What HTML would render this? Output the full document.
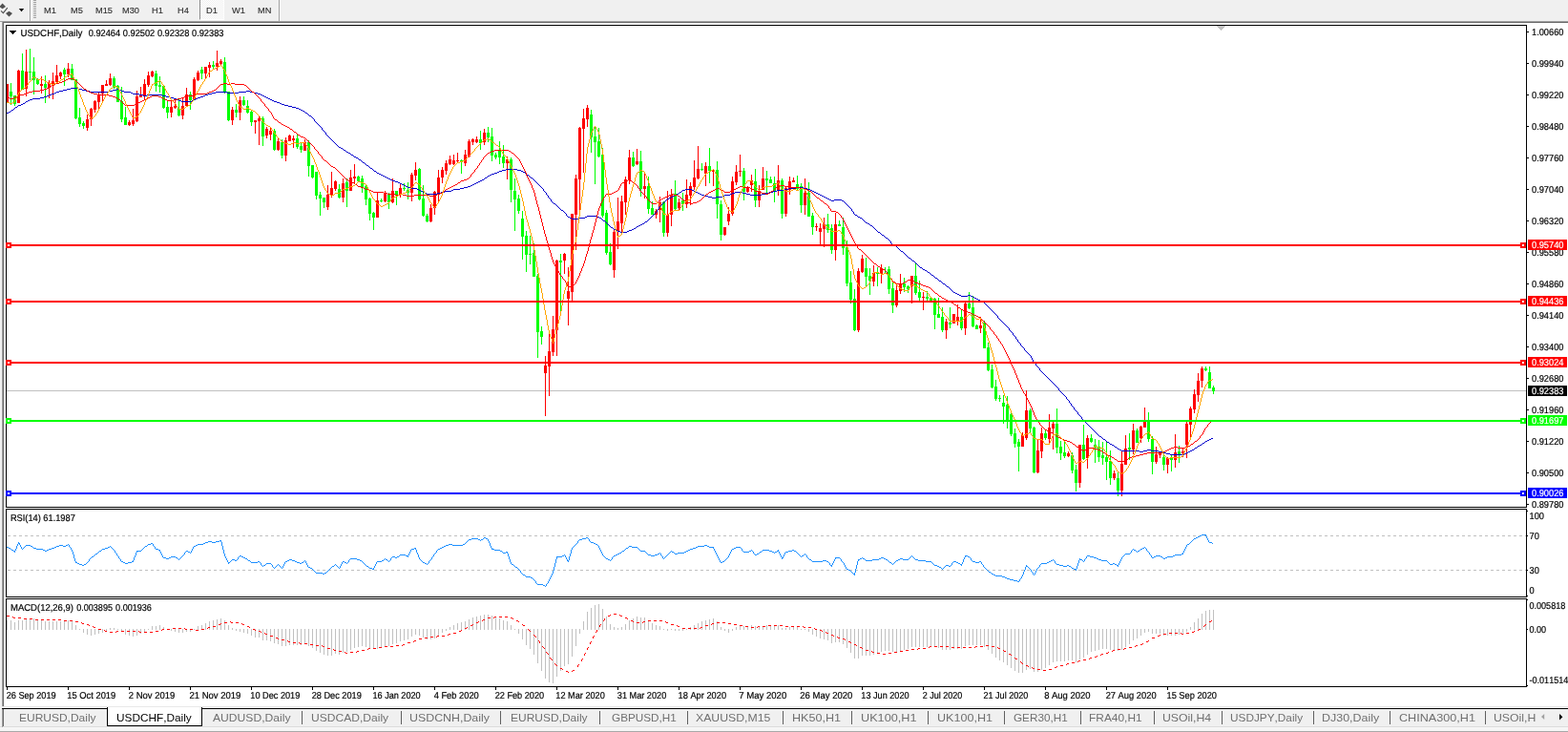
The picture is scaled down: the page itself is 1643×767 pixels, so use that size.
<!DOCTYPE html>
<html lang="en"><head><meta charset="utf-8"><title>USDCHF,Daily</title>
<style>
html,body{margin:0;padding:0;background:#fff;overflow:hidden}
body{width:1643px;height:767px;position:relative;font-family:'Liberation Sans',sans-serif;font-kerning:none}
#chart text{font-kerning:none}
#chart{position:absolute;left:0;top:0;display:block}
#toolbar{position:absolute;left:0;top:0;width:1643px;height:22px}
#toolbar span{position:absolute;top:4.9px;height:12px;line-height:12px;font-size:9.6px;color:#333;-webkit-text-stroke:.15px #333;white-space:nowrap;transform-origin:0 0;transform:scaleX(.965)}
#toolbar .sep{position:absolute;top:0;width:1px;height:22px;background:#a0a0a0;box-shadow:1px 0 0 #fff}
#toolbar .grip{position:absolute;left:35px;top:0;width:3px;height:19px;background:repeating-linear-gradient(#a0a0a0 0 1px,transparent 1px 2px)}
#toolbar .on{position:absolute;left:209px;top:0;width:26px;height:21px;box-sizing:border-box;border-left:1px solid #8c8c8c;border-right:1px solid #fff;border-bottom:1px solid #fff;background:repeating-conic-gradient(#fff 0 25%,#f0f0f0 0 50%) 0 0/2px 2px}
#tabs{position:absolute;left:0;top:741px;width:1643px;height:26px;overflow:hidden}
#tabs .bg{position:absolute;left:4px;top:2px;right:0;height:19px;background:#f0f0f0}
#tabs .line{position:absolute;left:2px;top:1px;right:0;height:1px;background:#000}
#tabs .l1{position:absolute;left:2px;top:2px;width:1px;height:19px;background:#a0a0a0}
#tabs .l2{position:absolute;left:3px;top:2px;width:1px;height:18px;background:#696969}
#tabs span{position:absolute;top:3.2px;height:16px;line-height:16px;font-size:11.8px;color:#707070;white-space:nowrap;transform-origin:0 0}
#tabs span.act{color:#000}
#tabs .actbg{position:absolute;left:112px;top:0;width:100px;height:20px;box-sizing:border-box;background:#fff;border:1px solid #000;border-top:0}
#tabs i{position:absolute;top:4px;width:1px;height:14px;background:#606060}
#tabs .b0{position:absolute;left:0;top:20px;width:100%;height:1px;background:#dcdcdc}
#tabs .b1{position:absolute;left:0;top:21px;width:100%;height:4px;background:#f6f6f6}
#tabs .b2{position:absolute;left:0;top:25px;width:100%;height:1px;background:#a8a8a8}
</style></head><body>
<svg id="chart" width="1643" height="767" viewBox="0 0 1643 767" font-family="'Liberation Sans', sans-serif" shape-rendering="crispEdges">
<rect x="0" y="0" width="1643" height="767" fill="#ffffff"/>
<rect x="0" y="0" width="1643" height="22" fill="#f0f0f0"/>
<rect x="0" y="22" width="2" height="745" fill="#f0f0f0"/>
<rect x="0" y="22" width="1643" height="1" fill="#a0a0a0"/>
<rect x="3" y="23" width="1640" height="1" fill="#696969"/>
<rect x="2" y="23" width="1" height="717" fill="#a0a0a0"/>
<rect x="3" y="24" width="1" height="716" fill="#696969"/>
<rect x="2" y="740" width="1641" height="2" fill="#ffffff"/>
<rect x="2" y="740" width="1641" height="1" fill="#e8e8e8"/>
<rect x="7" y="409" width="1592" height="1" fill="#c0c0c0"/>
<g id="candles" clip-path="url(#cm)">
<path fill="#00ff00" d="M11 87h1v23h-1zM10 96h3v5h-3zM15 100h1v11h-1zM14 100h3v9h-3zM23 56h1v38h-1zM22 74h3v20h-3zM31 51h1v33h-1zM30 75h3v1h-3zM35 60h1v39h-1zM34 75h3v9h-3zM39 82h1v7h-1zM38 83h3v5h-3zM47 79h1v29h-1zM46 88h3v4h-3zM67 71h1v19h-1zM66 73h3v5h-3zM75 67h1v17h-1zM74 72h3v12h-3zM79 83h1v42h-1zM78 83h3v41h-3zM83 113h1v20h-1zM82 123h3v7h-3zM87 127h1v8h-1zM86 129h3v3h-3zM119 80h1v13h-1zM118 82h3v10h-3zM123 89h1v18h-1zM122 90h3v17h-3zM127 91h1v37h-1zM126 106h3v19h-3zM131 112h1v19h-1zM130 123h3v8h-3zM163 74h1v22h-1zM162 77h3v13h-3zM167 80h1v17h-1zM166 89h3v2h-3zM171 90h1v24h-1zM170 90h3v23h-3zM175 106h1v18h-1zM174 112h3v6h-3zM187 104h1v18h-1zM186 114h3v7h-3zM199 96h1v19h-1zM198 99h3v6h-3zM211 70h1v13h-1zM210 73h3v4h-3zM223 64h1v9h-1zM222 68h3v2h-3zM235 60h1v38h-1zM234 65h3v31h-3zM239 96h1v31h-1zM238 96h3v30h-3zM247 109h1v14h-1zM246 115h3v3h-3zM255 101h1v10h-1zM254 105h3v5h-3zM259 105h1v14h-1zM258 111h3v7h-3zM263 116h1v16h-1zM262 117h3v11h-3zM275 122h1v31h-1zM274 124h3v19h-3zM287 135h1v23h-1zM286 137h3v20h-3zM295 146h1v20h-1zM294 149h3v14h-3zM311 141h1v15h-1zM310 145h3v9h-3zM315 150h1v10h-1zM314 153h3v4h-3zM323 147h1v38h-1zM322 149h3v25h-3zM327 173h1v14h-1zM326 173h3v13h-3zM331 180h1v29h-1zM330 180h3v25h-3zM335 201h1v25h-1zM334 204h3v4h-3zM339 207h1v11h-1zM338 207h3v5h-3zM355 193h1v15h-1zM354 198h3v9h-3zM363 187h1v30h-1zM362 191h3v9h-3zM375 184h1v6h-1zM374 185h3v5h-3zM379 184h1v18h-1zM378 187h3v9h-3zM383 194h1v21h-1zM382 195h3v14h-3zM387 207h1v24h-1zM386 208h3v16h-3zM391 222h1v19h-1zM390 223h3v5h-3zM399 208h1v4h-1zM398 210h3v1h-3zM407 202h1v17h-1zM406 204h3v8h-3zM415 200h1v15h-1zM414 200h3v5h-3zM423 192h1v8h-1zM422 197h3v1h-3zM427 191h1v18h-1zM426 199h3v3h-3zM439 176h1v34h-1zM438 177h3v32h-3zM443 194h1v33h-1zM442 208h3v18h-3zM447 224h1v9h-1zM446 226h3v6h-3zM483 167h1v15h-1zM482 168h3v2h-3zM503 137h1v20h-1zM502 146h3v4h-3zM511 133h1v16h-1zM510 139h3v5h-3zM515 134h1v35h-1zM514 143h3v20h-3zM519 160h1v7h-1zM518 162h3v3h-3zM523 148h1v24h-1zM522 158h3v7h-3zM527 152h1v24h-1zM526 164h3v7h-3zM535 165h1v47h-1zM534 167h3v32h-3zM539 187h1v55h-1zM538 200h3v9h-3zM543 204h1v20h-1zM542 208h3v13h-3zM547 221h1v51h-1zM546 229h3v19h-3zM551 242h1v43h-1zM550 247h3v20h-3zM555 247h1v30h-1zM554 266h3v1h-3zM559 255h1v35h-1zM558 265h3v25h-3zM563 287h1v88h-1zM562 289h3v59h-3zM567 342h1v19h-1zM566 347h3v6h-3zM587 266h1v60h-1zM586 273h3v2h-3zM619 115h1v45h-1zM618 120h3v24h-3zM623 133h1v60h-1zM622 143h3v6h-3zM627 134h1v31h-1zM626 148h3v16h-3zM631 155h1v73h-1zM630 162h3v64h-3zM635 220h1v47h-1zM634 223h3v42h-3zM639 255h1v23h-1zM638 264h3v13h-3zM663 159h1v16h-1zM662 165h3v9h-3zM671 158h1v48h-1zM670 169h3v29h-3zM679 185h1v39h-1zM678 195h3v24h-3zM683 211h1v14h-1zM682 218h3v7h-3zM695 211h1v37h-1zM694 212h3v32h-3zM707 189h1v31h-1zM706 203h3v16h-3zM715 202h1v19h-1zM714 210h3v4h-3zM735 171h1v8h-1zM734 177h3v1h-3zM743 155h1v37h-1zM742 174h3v5h-3zM751 169h1v60h-1zM750 178h3v36h-3zM755 210h1v42h-1zM754 214h3v32h-3zM779 176h1v34h-1zM778 179h3v22h-3zM791 177h1v40h-1zM790 190h3v20h-3zM803 179h1v23h-1zM802 187h3v2h-3zM807 185h1v7h-1zM806 188h3v4h-3zM811 185h1v27h-1zM810 192h3v8h-3zM819 187h1v42h-1zM818 189h3v35h-3zM835 184h1v15h-1zM834 193h3v5h-3zM839 192h1v31h-1zM838 195h3v20h-3zM847 191h1v36h-1zM846 202h3v25h-3zM851 223h1v23h-1zM850 226h3v12h-3zM867 224h1v20h-1zM866 235h3v6h-3zM871 235h1v31h-1zM870 239h3v23h-3zM879 231h1v6h-1zM878 235h3v2h-3zM883 228h1v39h-1zM882 238h3v22h-3zM887 252h1v48h-1zM886 259h3v38h-3zM891 284h1v34h-1zM890 296h3v18h-3zM895 303h1v44h-1zM894 313h3v33h-3zM907 270h1v31h-1zM906 281h3v9h-3zM911 281h1v28h-1zM910 289h3v5h-3zM919 280h1v20h-1zM918 285h3v2h-3zM927 280h1v7h-1zM926 286h3v1h-3zM931 279h1v29h-1zM930 282h3v21h-3zM935 295h1v33h-1zM934 302h3v18h-3zM947 291h1v15h-1zM946 297h3v4h-3zM951 299h1v8h-1zM950 300h3v3h-3zM959 276h1v33h-1zM958 289h3v18h-3zM963 294h1v21h-1zM962 306h3v6h-3zM971 305h1v10h-1zM970 311h3v2h-3zM975 312h1v3h-1zM974 312h3v3h-3zM979 312h1v33h-1zM978 313h3v17h-3zM983 312h1v21h-1zM982 329h3v4h-3zM987 322h1v26h-1zM986 332h3v14h-3zM995 322h1v22h-1zM994 338h3v2h-3zM1007 325h1v21h-1zM1006 332h3v12h-3zM1015 306h1v18h-1zM1014 318h3v5h-3zM1019 310h1v33h-1zM1018 322h3v20h-3zM1023 340h1v5h-1zM1022 341h3v4h-3zM1031 336h1v29h-1zM1030 338h3v27h-3zM1035 359h1v30h-1zM1034 364h3v24h-3zM1039 382h1v25h-1zM1038 387h3v19h-3zM1043 398h1v22h-1zM1042 405h3v13h-3zM1047 414h1v7h-1zM1046 417h3v1h-3zM1051 414h1v30h-1zM1050 422h3v4h-3zM1055 415h1v34h-1zM1054 424h3v17h-3zM1059 433h1v24h-1zM1058 434h3v21h-3zM1063 449h1v20h-1zM1062 454h3v11h-3zM1067 460h1v34h-1zM1066 463h3v5h-3zM1079 428h1v25h-1zM1078 430h3v19h-3zM1083 447h1v49h-1zM1082 448h3v47h-3zM1095 451h1v10h-1zM1094 454h3v5h-3zM1107 428h1v47h-1zM1106 444h3v25h-3zM1111 462h1v20h-1zM1110 468h3v7h-3zM1115 463h1v17h-1zM1114 474h3v4h-3zM1123 474h1v22h-1zM1122 477h3v16h-3zM1127 487h1v28h-1zM1126 492h3v14h-3zM1135 445h1v37h-1zM1134 466h3v15h-3zM1143 455h1v9h-1zM1142 459h3v4h-3zM1147 460h1v25h-1zM1146 466h3v3h-3zM1151 461h1v23h-1zM1150 468h3v11h-3zM1155 463h1v24h-1zM1154 477h3v3h-3zM1159 463h1v40h-1zM1158 479h3v5h-3zM1163 472h1v36h-1zM1162 483h3v18h-3zM1171 495h1v25h-1zM1170 501h3v13h-3zM1183 454h1v28h-1zM1182 469h3v2h-3zM1191 449h1v15h-1zM1190 451h3v13h-3zM1203 432h1v31h-1zM1202 441h3v19h-3zM1207 457h1v40h-1zM1206 460h3v24h-3zM1219 476h1v17h-1zM1218 479h3v8h-3zM1227 477h1v17h-1zM1226 479h3v3h-3zM1235 467h1v18h-1zM1234 473h3v3h-3zM1263 384h1v5h-1zM1262 386h3v2h-3zM1267 384h1v23h-1zM1266 390h3v17h-3zM1271 404h1v9h-1zM1270 406h3v4h-3z"/>
<path fill="#ff0000" d="M7 88h1v19h-1zM6 88h3v19h-3zM19 73h1v35h-1zM18 74h3v34h-3zM27 52h1v49h-1zM26 75h3v18h-3zM43 80h1v18h-1zM42 88h3v2h-3zM51 84h1v19h-1zM50 87h3v5h-3zM55 76h1v28h-1zM54 85h3v5h-3zM59 68h1v18h-1zM58 79h3v7h-3zM63 75h1v8h-1zM62 76h3v4h-3zM71 66h1v15h-1zM70 72h3v6h-3zM91 120h1v17h-1zM90 125h3v9h-3zM95 113h1v19h-1zM94 114h3v11h-3zM99 105h1v13h-1zM98 106h3v9h-3zM103 97h1v17h-1zM102 99h3v8h-3zM107 89h1v17h-1zM106 89h3v9h-3zM111 84h1v6h-1zM110 88h3v2h-3zM115 77h1v13h-1zM114 82h3v7h-3zM135 126h1v6h-1zM134 128h3v3h-3zM139 114h1v18h-1zM138 126h3v4h-3zM143 95h1v33h-1zM142 101h3v26h-3zM147 91h1v11h-1zM146 99h3v3h-3zM151 83h1v22h-1zM150 88h3v12h-3zM155 75h1v16h-1zM154 79h3v10h-3zM159 74h1v7h-1zM158 75h3v5h-3zM179 105h1v18h-1zM178 112h3v6h-3zM183 105h1v9h-1zM182 111h3v2h-3zM191 102h1v23h-1zM190 111h3v10h-3zM195 92h1v20h-1zM194 99h3v12h-3zM203 81h1v23h-1zM202 83h3v21h-3zM207 74h1v11h-1zM206 76h3v8h-3zM215 70h1v12h-1zM214 70h3v7h-3zM219 65h1v16h-1zM218 68h3v3h-3zM227 53h1v21h-1zM226 66h3v4h-3zM231 62h1v6h-1zM230 64h3v3h-3zM243 112h1v19h-1zM242 115h3v11h-3zM251 101h1v25h-1zM250 105h3v13h-3zM267 126h1v14h-1zM266 126h3v2h-3zM271 121h1v31h-1zM270 124h3v3h-3zM279 133h1v12h-1zM278 135h3v7h-3zM283 134h1v13h-1zM282 137h3v4h-3zM291 145h1v13h-1zM290 148h3v9h-3zM299 144h1v25h-1zM298 147h3v16h-3zM303 141h1v7h-1zM302 142h3v6h-3zM307 142h1v13h-1zM306 145h3v2h-3zM319 146h1v12h-1zM318 149h3v9h-3zM343 194h1v26h-1zM342 204h3v13h-3zM347 180h1v27h-1zM346 197h3v8h-3zM351 189h1v11h-1zM350 190h3v8h-3zM359 187h1v25h-1zM358 192h3v15h-3zM367 178h1v22h-1zM366 186h3v14h-3zM371 172h1v21h-1zM370 185h3v2h-3zM395 201h1v27h-1zM394 210h3v18h-3zM403 200h1v12h-1zM402 202h3v9h-3zM411 187h1v26h-1zM410 200h3v12h-3zM419 193h1v14h-1zM418 197h3v7h-3zM431 181h1v30h-1zM430 183h3v19h-3zM435 170h1v19h-1zM434 178h3v6h-3zM451 214h1v19h-1zM450 218h3v14h-3zM455 200h1v25h-1zM454 201h3v17h-3zM459 178h1v33h-1zM458 186h3v16h-3zM463 175h1v17h-1zM462 178h3v8h-3zM467 168h1v15h-1zM466 171h3v8h-3zM471 163h1v10h-1zM470 167h3v5h-3zM475 162h1v11h-1zM474 168h3v4h-3zM479 160h1v11h-1zM478 168h3v1h-3zM487 157h1v17h-1zM486 162h3v9h-3zM491 146h1v19h-1zM490 148h3v16h-3zM495 145h1v7h-1zM494 146h3v3h-3zM499 143h1v7h-1zM498 146h3v3h-3zM507 135h1v17h-1zM506 139h3v10h-3zM531 164h1v24h-1zM530 167h3v4h-3zM571 373h1v63h-1zM570 383h3v8h-3zM575 350h1v65h-1zM574 368h3v16h-3zM579 331h1v42h-1zM578 345h3v24h-3zM583 272h1v101h-1zM582 273h3v73h-3zM591 265h1v22h-1zM590 266h3v7h-3zM595 280h1v61h-1zM594 305h3v8h-3zM599 224h1v91h-1zM598 224h3v82h-3zM603 183h1v79h-1zM602 187h3v38h-3zM607 133h1v87h-1zM606 134h3v54h-3zM611 114h1v67h-1zM610 124h3v11h-3zM615 110h1v23h-1zM614 113h3v12h-3zM643 241h1v50h-1zM642 243h3v40h-3zM647 207h1v54h-1zM646 232h3v10h-3zM651 205h1v38h-1zM650 211h3v23h-3zM655 185h1v40h-1zM654 188h3v24h-3zM659 157h1v36h-1zM658 165h3v24h-3zM667 156h1v17h-1zM666 169h3v3h-3zM675 182h1v26h-1zM674 195h3v3h-3zM687 219h1v10h-1zM686 221h3v4h-3zM691 206h1v27h-1zM690 212h3v8h-3zM699 200h1v48h-1zM698 225h3v19h-3zM703 198h1v39h-1zM702 204h3v21h-3zM711 208h1v12h-1zM710 212h3v6h-3zM719 188h1v30h-1zM718 204h3v10h-3zM723 191h1v24h-1zM722 195h3v10h-3zM727 168h1v31h-1zM726 186h3v10h-3zM731 153h1v35h-1zM730 177h3v10h-3zM739 170h1v25h-1zM738 174h3v8h-3zM747 177h1v18h-1zM746 178h3v2h-3zM759 238h1v9h-1zM758 238h3v8h-3zM763 217h1v19h-1zM762 224h3v8h-3zM767 185h1v41h-1zM766 190h3v34h-3zM771 173h1v21h-1zM770 180h3v11h-3zM775 162h1v23h-1zM774 179h3v1h-3zM783 195h1v7h-1zM782 197h3v4h-3zM787 183h1v18h-1zM786 189h3v5h-3zM795 194h1v23h-1zM794 200h3v10h-3zM799 175h1v24h-1zM798 187h3v12h-3zM815 173h1v32h-1zM814 189h3v11h-3zM823 195h1v32h-1zM822 197h3v27h-3zM827 185h1v19h-1zM826 190h3v9h-3zM831 186h1v5h-1zM830 189h3v2h-3zM843 187h1v38h-1zM842 202h3v13h-3zM855 234h1v8h-1zM854 237h3v1h-3zM859 234h1v23h-1zM858 239h3v4h-3zM863 228h1v31h-1zM862 235h3v5h-3zM875 223h1v50h-1zM874 235h3v27h-3zM899 281h1v67h-1zM898 284h3v62h-3zM903 267h1v19h-1zM902 271h3v14h-3zM915 278h1v22h-1zM914 286h3v9h-3zM923 277h1v20h-1zM922 281h3v6h-3zM939 299h1v23h-1zM938 304h3v16h-3zM943 287h1v21h-1zM942 297h3v8h-3zM955 289h1v29h-1zM954 289h3v11h-3zM967 306h1v19h-1zM966 311h3v1h-3zM991 334h1v21h-1zM990 337h3v9h-3zM999 329h1v10h-1zM998 329h3v10h-3zM1003 319h1v22h-1zM1002 332h3v5h-3zM1011 316h1v35h-1zM1010 318h3v26h-3zM1027 332h1v17h-1zM1026 341h3v3h-3zM1071 453h1v15h-1zM1070 456h3v12h-3zM1075 409h1v52h-1zM1074 430h3v29h-3zM1087 461h1v35h-1zM1086 472h3v23h-3zM1091 448h1v32h-1zM1090 454h3v19h-3zM1099 434h1v30h-1zM1098 448h3v12h-3zM1103 442h1v29h-1zM1102 444h3v5h-3zM1119 473h1v6h-1zM1118 475h3v3h-3zM1131 466h1v45h-1zM1130 466h3v40h-3zM1139 456h1v35h-1zM1138 459h3v21h-3zM1167 493h1v10h-1zM1166 496h3v5h-3zM1175 472h1v48h-1zM1174 486h3v28h-3zM1179 456h1v31h-1zM1178 470h3v17h-3zM1187 444h1v32h-1zM1186 451h3v20h-3zM1195 446h1v18h-1zM1194 447h3v12h-3zM1199 427h1v21h-1zM1198 442h3v6h-3zM1211 468h1v18h-1zM1210 476h3v8h-3zM1215 473h1v7h-1zM1214 474h3v3h-3zM1223 479h1v17h-1zM1222 480h3v7h-3zM1231 455h1v35h-1zM1230 474h3v8h-3zM1239 470h1v9h-1zM1238 473h3v2h-3zM1243 442h1v38h-1zM1242 444h3v22h-3zM1247 426h1v34h-1zM1246 428h3v17h-3zM1251 408h1v25h-1zM1250 413h3v16h-3zM1255 391h1v30h-1zM1254 399h3v15h-3zM1259 384h1v22h-1zM1258 386h3v13h-3z"/>
</g>
<defs><clipPath id="cm"><rect x="7" y="27" width="1592" height="504"/></clipPath></defs>
<g id="ma" clip-path="url(#cm)">
<path fill="#0000cd" d="M7 118h2v1h-2zM9 117h2v1h-2zM11 116h1v1h-1zM12 115h2v1h-2zM14 114h1v1h-1zM15 113h1v1h-1zM16 112h2v1h-2zM18 111h1v1h-1zM19 110h3v1h-3zM22 109h2v1h-2zM24 108h2v1h-2zM26 107h1v1h-1zM27 106h2v1h-2zM29 105h2v1h-2zM31 104h3v1h-3zM34 103h8v1h-8zM42 102h4v1h-4zM46 101h3v1h-3zM49 100h2v1h-2zM51 99h3v1h-3zM54 98h3v1h-3zM57 97h2v1h-2zM59 96h3v1h-3zM62 95h4v1h-4zM66 94h4v1h-4zM70 93h4v1h-4zM74 92h8v1h-8zM82 93h4v1h-4zM86 94h4v1h-4zM90 95h4v1h-4zM94 96h20v1h-20zM114 95h4v1h-4zM118 94h4v1h-4zM122 93h3v1h-3zM125 94h2v1h-2zM127 95h3v1h-3zM130 96h7v1h-7zM137 97h2v1h-2zM139 98h7v1h-7zM146 99h4v1h-4zM150 100h4v1h-4zM154 99h16v1h-16zM170 100h4v1h-4zM174 101h4v1h-4zM178 102h4v1h-4zM182 103h3v1h-3zM185 104h2v1h-2zM187 105h3v1h-3zM190 106h11v1h-11zM201 105h2v1h-2zM203 104h2v1h-2zM205 103h2v1h-2zM207 102h3v1h-3zM210 101h3v1h-3zM213 100h2v1h-2zM215 99h3v1h-3zM218 98h4v1h-4zM222 97h4v1h-4zM226 96h12v1h-12zM238 97h12v1h-12zM250 96h8v1h-8zM258 95h4v1h-4zM262 96h4v1h-4zM266 97h4v1h-4zM270 98h3v1h-3zM273 99h2v1h-2zM275 100h2v1h-2zM277 101h2v1h-2zM279 102h2v1h-2zM281 103h2v1h-2zM283 104h2v1h-2zM285 105h2v1h-2zM287 106h3v1h-3zM290 107h3v1h-3zM293 108h2v1h-2zM295 109h3v1h-3zM298 110h4v1h-4zM302 111h4v1h-4zM306 112h4v1h-4zM310 113h3v1h-3zM313 114h2v1h-2zM315 115h2v1h-2zM317 116h2v1h-2zM319 117h1v1h-1zM320 118h2v1h-2zM322 119h1v1h-1zM323 120h1v1h-1zM324 121h2v1h-2zM326 122h1v1h-1zM327 123h1v1h-1zM328 124h1v1h-1zM329 125h1v2h-1zM330 127h1v1h-1zM331 128h1v1h-1zM332 129h1v1h-1zM333 130h1v1h-1zM334 131h1v1h-1zM335 132h1v1h-1zM336 133h1v1h-1zM337 134h1v2h-1zM338 136h1v1h-1zM339 137h1v1h-1zM340 138h1v1h-1zM341 139h1v2h-1zM342 141h1v1h-1zM343 142h1v1h-1zM344 143h1v1h-1zM345 144h1v1h-1zM346 145h1v1h-1zM347 146h1v1h-1zM348 147h1v1h-1zM349 148h1v1h-1zM350 149h1v1h-1zM351 150h1v1h-1zM352 151h1v1h-1zM353 152h1v1h-1zM354 153h1v1h-1zM355 154h2v1h-2zM357 155h2v1h-2zM359 156h1v1h-1zM360 157h2v1h-2zM362 158h1v1h-1zM363 159h2v1h-2zM365 160h2v1h-2zM367 161h1v1h-1zM368 162h2v1h-2zM370 163h1v1h-1zM371 164h2v1h-2zM373 165h2v1h-2zM375 166h1v1h-1zM376 167h2v1h-2zM378 168h1v1h-1zM379 169h1v1h-1zM380 170h2v1h-2zM382 171h1v1h-1zM383 172h1v1h-1zM384 173h2v1h-2zM386 174h1v1h-1zM387 175h1v1h-1zM388 176h2v1h-2zM390 177h1v1h-1zM391 178h1v1h-1zM392 179h2v1h-2zM394 180h1v1h-1zM395 181h2v1h-2zM397 182h2v1h-2zM399 183h2v1h-2zM401 184h2v1h-2zM403 185h2v1h-2zM405 186h2v1h-2zM407 187h2v1h-2zM409 188h2v1h-2zM411 189h3v1h-3zM414 190h3v1h-3zM417 191h2v1h-2zM419 192h2v1h-2zM421 193h2v1h-2zM423 194h2v1h-2zM425 195h2v1h-2zM427 196h3v1h-3zM430 197h7v1h-7zM437 198h2v1h-2zM439 199h2v1h-2zM441 200h2v1h-2zM443 201h2v1h-2zM445 202h2v1h-2zM447 203h11v1h-11zM458 202h4v1h-4zM462 201h4v1h-4zM466 200h7v1h-7zM473 199h2v1h-2zM475 198h7v1h-7zM482 197h4v1h-4zM486 196h4v1h-4zM490 195h3v1h-3zM493 194h2v1h-2zM495 193h2v1h-2zM497 192h2v1h-2zM499 191h2v1h-2zM501 190h2v1h-2zM503 189h2v1h-2zM505 188h2v1h-2zM507 187h1v1h-1zM508 186h2v1h-2zM510 185h1v1h-1zM511 184h2v1h-2zM513 183h2v1h-2zM515 182h3v1h-3zM518 181h3v1h-3zM521 180h2v1h-2zM523 179h3v1h-3zM526 178h4v1h-4zM530 177h12v1h-12zM542 178h4v1h-4zM546 179h2v1h-2zM548 180h2v1h-2zM550 181h1v1h-1zM551 182h1v1h-1zM552 183h2v1h-2zM554 184h1v1h-1zM555 185h1v1h-1zM556 186h2v1h-2zM558 187h1v1h-1zM559 188h1v1h-1zM560 189h1v1h-1zM561 190h1v1h-1zM562 191h1v1h-1zM563 192h1v1h-1zM564 193h1v1h-1zM565 194h1v1h-1zM566 195h1v1h-1zM567 196h1v1h-1zM568 197h1v1h-1zM569 198h1v2h-1zM570 200h1v1h-1zM571 201h1v1h-1zM572 202h1v2h-1zM573 204h1v1h-1zM574 205h1v2h-1zM575 207h1v1h-1zM576 208h1v1h-1zM577 209h1v2h-1zM578 211h1v1h-1zM579 212h1v1h-1zM580 213h2v1h-2zM582 214h1v1h-1zM583 215h1v1h-1zM584 216h1v1h-1zM585 217h1v1h-1zM586 218h1v1h-1zM587 219h1v1h-1zM588 220h2v1h-2zM590 221h1v1h-1zM591 222h1v1h-1zM592 223h1v1h-1zM593 224h1v2h-1zM594 226h1v1h-1zM595 227h2v1h-2zM597 228h2v1h-2zM599 229h7v1h-7zM606 228h7v1h-7zM613 227h2v1h-2zM615 226h11v1h-11zM626 227h2v1h-2zM628 228h2v1h-2zM630 229h1v1h-1zM631 230h1v1h-1zM632 231h2v1h-2zM634 232h1v1h-1zM635 233h1v1h-1zM636 234h1v1h-1zM637 235h1v1h-1zM638 236h1v1h-1zM639 237h1v1h-1zM640 238h2v1h-2zM642 239h1v1h-1zM643 240h2v1h-2zM645 241h2v1h-2zM647 242h3v1h-3zM650 243h7v1h-7zM657 242h2v1h-2zM659 241h3v1h-3zM662 240h2v1h-2zM664 239h2v1h-2zM666 238h1v1h-1zM667 237h2v1h-2zM669 236h2v1h-2zM671 235h2v1h-2zM673 234h2v1h-2zM675 233h1v1h-1zM676 232h2v1h-2zM678 231h1v1h-1zM679 230h1v1h-1zM680 229h1v1h-1zM681 228h1v1h-1zM682 227h1v1h-1zM683 226h1v1h-1zM684 225h1v1h-1zM685 224h1v1h-1zM686 223h1v1h-1zM687 222h1v1h-1zM688 220h1v2h-1zM689 219h1v1h-1zM690 217h1v2h-1zM691 216h1v1h-1zM692 215h1v1h-1zM693 214h1v1h-1zM694 213h1v1h-1zM695 212h1v1h-1zM696 211h1v1h-1zM697 210h1v1h-1zM698 209h1v1h-1zM699 208h2v1h-2zM701 207h2v1h-2zM703 206h2v1h-2zM705 205h2v1h-2zM707 204h2v1h-2zM709 203h2v1h-2zM711 202h1v1h-1zM712 201h2v1h-2zM714 200h1v1h-1zM715 199h3v1h-3zM718 198h7v1h-7zM725 199h2v1h-2zM727 200h2v1h-2zM729 201h2v1h-2zM731 202h2v1h-2zM733 203h2v1h-2zM735 204h3v1h-3zM738 205h4v1h-4zM742 206h4v1h-4zM746 207h4v1h-4zM750 206h7v1h-7zM757 205h2v1h-2zM759 204h6v1h-6zM765 203h2v1h-2zM767 202h3v1h-3zM770 201h8v1h-8zM778 202h4v1h-4zM782 203h4v1h-4zM786 204h12v1h-12zM798 203h4v1h-4zM802 202h4v1h-4zM806 201h4v1h-4zM810 200h4v1h-4zM814 199h8v1h-8zM822 198h4v1h-4zM826 197h8v1h-8zM834 196h8v1h-8zM842 197h4v1h-4zM846 198h3v1h-3zM849 199h2v1h-2zM851 200h2v1h-2zM853 201h2v1h-2zM855 202h2v1h-2zM857 203h2v1h-2zM859 204h2v1h-2zM861 205h2v1h-2zM863 206h2v1h-2zM865 207h2v1h-2zM867 208h2v1h-2zM869 209h2v1h-2zM871 210h3v1h-3zM874 209h8v1h-8zM882 210h2v1h-2zM884 211h1v1h-1zM885 212h1v1h-1zM886 213h1v1h-1zM887 214h1v1h-1zM888 215h1v1h-1zM889 216h1v1h-1zM890 217h1v1h-1zM891 218h1v1h-1zM892 219h1v2h-1zM893 221h1v1h-1zM894 222h1v2h-1zM895 224h1v1h-1zM896 225h2v1h-2zM898 226h1v1h-1zM899 227h2v1h-2zM901 228h2v1h-2zM903 229h1v1h-1zM904 230h1v1h-1zM905 231h1v1h-1zM906 232h1v1h-1zM907 233h2v1h-2zM909 234h2v1h-2zM911 235h1v1h-1zM912 236h2v1h-2zM914 237h1v1h-1zM915 238h1v1h-1zM916 239h1v1h-1zM917 240h1v1h-1zM918 241h1v1h-1zM919 242h1v1h-1zM920 243h2v1h-2zM922 244h1v1h-1zM923 245h1v1h-1zM924 246h2v1h-2zM926 247h1v1h-1zM927 248h1v1h-1zM928 249h2v1h-2zM930 250h1v1h-1zM931 251h1v1h-1zM932 252h1v1h-1zM933 253h1v2h-1zM934 255h1v1h-1zM935 256h2v1h-2zM937 257h2v1h-2zM939 258h1v1h-1zM940 259h1v1h-1zM941 260h1v1h-1zM942 261h1v1h-1zM943 262h1v1h-1zM944 263h2v1h-2zM946 264h1v1h-1zM947 265h1v1h-1zM948 266h1v1h-1zM949 267h1v1h-1zM950 268h1v1h-1zM951 269h1v1h-1zM952 270h2v1h-2zM954 271h1v1h-1zM955 272h1v1h-1zM956 273h2v1h-2zM958 274h1v1h-1zM959 275h1v1h-1zM960 276h1v1h-1zM961 277h1v1h-1zM962 278h1v1h-1zM963 279h1v1h-1zM964 280h2v1h-2zM966 281h1v1h-1zM967 282h2v1h-2zM969 283h2v1h-2zM971 284h1v1h-1zM972 285h2v1h-2zM974 286h1v1h-1zM975 287h1v1h-1zM976 288h2v1h-2zM978 289h1v1h-1zM979 290h1v1h-1zM980 291h2v1h-2zM982 292h1v1h-1zM983 293h1v1h-1zM984 294h2v1h-2zM986 295h1v1h-1zM987 296h1v1h-1zM988 297h2v1h-2zM990 298h1v1h-1zM991 299h1v1h-1zM992 300h2v1h-2zM994 301h1v1h-1zM995 302h1v1h-1zM996 303h1v1h-1zM997 304h1v1h-1zM998 305h1v1h-1zM999 306h2v1h-2zM1001 307h2v1h-2zM1003 308h2v1h-2zM1005 309h2v1h-2zM1007 310h7v1h-7zM1014 309h3v1h-3zM1017 310h2v1h-2zM1019 311h2v1h-2zM1021 312h2v1h-2zM1023 313h2v1h-2zM1025 314h2v1h-2zM1027 315h2v1h-2zM1029 316h2v1h-2zM1031 317h1v1h-1zM1032 318h1v1h-1zM1033 319h1v1h-1zM1034 320h1v1h-1zM1035 321h1v1h-1zM1036 322h1v1h-1zM1037 323h1v1h-1zM1038 324h1v1h-1zM1039 325h1v1h-1zM1040 326h1v1h-1zM1041 327h1v1h-1zM1042 328h1v1h-1zM1043 329h1v1h-1zM1044 330h1v1h-1zM1045 331h1v2h-1zM1046 333h1v1h-1zM1047 334h1v1h-1zM1048 335h1v1h-1zM1049 336h1v1h-1zM1050 337h1v1h-1zM1051 338h1v1h-1zM1052 339h1v1h-1zM1053 340h1v1h-1zM1054 341h1v1h-1zM1055 342h1v1h-1zM1056 343h1v1h-1zM1057 344h1v2h-1zM1058 346h1v1h-1zM1059 347h1v1h-1zM1060 348h1v1h-1zM1061 349h1v2h-1zM1062 351h1v1h-1zM1063 352h1v1h-1zM1064 353h1v2h-1zM1065 355h1v1h-1zM1066 356h1v2h-1zM1067 358h1v1h-1zM1068 359h1v1h-1zM1069 360h1v2h-1zM1070 362h1v1h-1zM1071 363h1v1h-1zM1072 364h1v1h-1zM1073 365h1v2h-1zM1074 367h1v1h-1zM1075 368h1v1h-1zM1076 369h1v1h-1zM1077 370h1v1h-1zM1078 371h1v1h-1zM1079 372h1v1h-1zM1080 373h1v2h-1zM1081 375h1v2h-1zM1082 377h1v2h-1zM1083 379h1v1h-1zM1084 380h1v1h-1zM1085 381h1v2h-1zM1086 383h1v1h-1zM1087 384h1v1h-1zM1088 385h1v1h-1zM1089 386h1v2h-1zM1090 388h1v1h-1zM1091 389h1v1h-1zM1092 390h1v1h-1zM1093 391h1v1h-1zM1094 392h1v1h-1zM1095 393h1v1h-1zM1096 394h1v1h-1zM1097 395h1v1h-1zM1098 396h1v1h-1zM1099 397h1v1h-1zM1100 398h1v1h-1zM1101 399h1v1h-1zM1102 400h1v1h-1zM1103 401h1v1h-1zM1104 402h1v1h-1zM1105 403h1v1h-1zM1106 404h1v1h-1zM1107 405h1v1h-1zM1108 406h1v1h-1zM1109 407h1v2h-1zM1110 409h1v1h-1zM1111 410h1v1h-1zM1112 411h1v1h-1zM1113 412h1v1h-1zM1114 413h1v1h-1zM1115 414h1v1h-1zM1116 415h1v1h-1zM1117 416h1v2h-1zM1118 418h1v1h-1zM1119 419h1v1h-1zM1120 420h1v2h-1zM1121 422h1v1h-1zM1122 423h1v2h-1zM1123 425h1v1h-1zM1124 426h1v1h-1zM1125 427h1v2h-1zM1126 429h1v1h-1zM1127 430h1v1h-1zM1128 431h1v1h-1zM1129 432h1v2h-1zM1130 434h1v1h-1zM1131 435h1v1h-1zM1132 436h1v1h-1zM1133 437h1v2h-1zM1134 439h1v1h-1zM1135 440h1v1h-1zM1136 441h1v1h-1zM1137 442h1v1h-1zM1138 443h1v1h-1zM1139 444h1v1h-1zM1140 445h1v1h-1zM1141 446h1v1h-1zM1142 447h1v1h-1zM1143 448h1v1h-1zM1144 449h1v1h-1zM1145 450h1v1h-1zM1146 451h1v1h-1zM1147 452h1v1h-1zM1148 453h1v1h-1zM1149 454h1v1h-1zM1150 455h1v1h-1zM1151 456h1v1h-1zM1152 457h2v1h-2zM1154 458h1v1h-1zM1155 459h1v1h-1zM1156 460h2v1h-2zM1158 461h1v1h-1zM1159 462h1v1h-1zM1160 463h2v1h-2zM1162 464h1v1h-1zM1163 465h2v1h-2zM1165 466h2v1h-2zM1167 467h1v1h-1zM1168 468h2v1h-2zM1170 469h1v1h-1zM1171 470h2v1h-2zM1173 471h2v1h-2zM1175 472h19v1h-19zM1194 473h4v1h-4zM1198 472h4v1h-4zM1202 471h4v1h-4zM1206 472h8v1h-8zM1214 473h4v1h-4zM1218 474h4v1h-4zM1222 475h4v1h-4zM1226 476h15v1h-15zM1241 475h2v1h-2zM1243 474h2v1h-2zM1245 473h2v1h-2zM1247 472h2v1h-2zM1249 471h2v1h-2zM1251 470h1v1h-1zM1252 469h2v1h-2zM1254 468h1v1h-1zM1255 467h2v1h-2zM1257 466h2v1h-2zM1259 465h1v1h-1zM1260 464h2v1h-2zM1262 463h1v1h-1zM1263 462h2v1h-2zM1265 461h2v1h-2zM1267 460h2v1h-2zM1269 459h2v1h-2z"/>
<path fill="#ff0000" d="M7 102h3v1h-3zM10 103h4v1h-4zM14 102h2v1h-2zM16 101h2v1h-2zM18 100h1v1h-1zM19 99h6v1h-6zM25 98h2v1h-2zM27 97h3v1h-3zM30 96h4v1h-4zM34 95h8v1h-8zM42 94h4v1h-4zM46 93h3v1h-3zM49 92h2v1h-2zM51 91h1v1h-1zM52 90h2v1h-2zM54 89h1v1h-1zM55 88h3v1h-3zM58 87h4v1h-4zM62 86h3v1h-3zM65 85h2v1h-2zM67 84h2v1h-2zM69 83h2v1h-2zM71 82h6v1h-6zM77 83h2v1h-2zM79 84h1v1h-1zM80 85h1v1h-1zM81 86h1v1h-1zM82 87h1v1h-1zM83 88h1v1h-1zM84 89h1v1h-1zM85 90h1v1h-1zM86 91h1v1h-1zM87 92h1v1h-1zM88 93h2v1h-2zM90 94h1v1h-1zM91 95h2v1h-2zM93 96h2v1h-2zM95 97h3v1h-3zM98 98h4v1h-4zM102 99h12v1h-12zM114 100h4v1h-4zM118 101h3v1h-3zM121 102h2v1h-2zM123 103h1v1h-1zM124 104h2v1h-2zM126 105h1v1h-1zM127 106h1v1h-1zM128 107h1v1h-1zM129 108h1v1h-1zM130 109h1v1h-1zM131 110h10v1h-10zM141 109h2v1h-2zM143 108h2v1h-2zM145 107h2v1h-2zM147 106h2v1h-2zM149 105h2v1h-2zM151 104h2v1h-2zM153 103h2v1h-2zM155 102h2v1h-2zM157 101h2v1h-2zM159 100h7v1h-7zM166 101h3v1h-3zM169 102h2v1h-2zM171 103h2v1h-2zM173 104h2v1h-2zM175 105h7v1h-7zM182 104h4v1h-4zM186 103h4v1h-4zM190 102h3v1h-3zM193 101h2v1h-2zM195 100h7v1h-7zM202 99h4v1h-4zM206 98h11v1h-11zM217 97h2v1h-2zM219 96h3v1h-3zM222 95h2v1h-2zM224 94h2v1h-2zM226 93h1v1h-1zM227 92h1v1h-1zM228 91h1v1h-1zM229 90h1v1h-1zM230 89h1v1h-1zM231 88h3v1h-3zM234 87h4v1h-4zM238 88h4v1h-4zM242 87h4v1h-4zM246 88h10v1h-10zM256 89h2v1h-2zM258 90h1v1h-1zM259 91h1v1h-1zM260 92h1v1h-1zM261 93h1v1h-1zM262 94h1v1h-1zM263 95h1v1h-1zM264 96h2v1h-2zM266 97h1v1h-1zM267 98h1v1h-1zM268 99h1v1h-1zM269 100h1v1h-1zM270 101h1v1h-1zM271 102h1v1h-1zM272 103h1v1h-1zM273 104h1v2h-1zM274 106h1v1h-1zM275 107h1v1h-1zM276 108h1v1h-1zM277 109h1v2h-1zM278 111h1v1h-1zM279 112h1v1h-1zM280 113h1v1h-1zM281 114h1v2h-1zM282 116h1v1h-1zM283 117h1v1h-1zM284 118h1v2h-1zM285 120h1v2h-1zM286 122h1v2h-1zM287 124h1v1h-1zM288 125h2v1h-2zM290 126h1v1h-1zM291 127h1v1h-1zM292 128h2v1h-2zM294 129h1v1h-1zM295 130h2v1h-2zM297 131h2v1h-2zM299 132h2v1h-2zM301 133h2v1h-2zM303 134h1v1h-1zM304 135h2v1h-2zM306 136h1v1h-1zM307 137h1v1h-1zM308 138h2v1h-2zM310 139h1v1h-1zM311 140h1v1h-1zM312 141h2v1h-2zM314 142h1v1h-1zM315 143h3v1h-3zM318 144h2v1h-2zM320 145h1v1h-1zM321 146h1v1h-1zM322 147h1v1h-1zM323 148h1v1h-1zM324 149h1v1h-1zM325 150h1v1h-1zM326 151h1v1h-1zM327 152h1v1h-1zM328 153h1v1h-1zM329 154h1v2h-1zM330 156h1v1h-1zM331 157h1v1h-1zM332 158h1v1h-1zM333 159h1v2h-1zM334 161h1v1h-1zM335 162h1v1h-1zM336 163h1v1h-1zM337 164h1v2h-1zM338 166h1v1h-1zM339 167h1v1h-1zM340 168h2v1h-2zM342 169h1v1h-1zM343 170h1v1h-1zM344 171h1v1h-1zM345 172h1v1h-1zM346 173h1v1h-1zM347 174h2v1h-2zM349 175h2v1h-2zM351 176h1v1h-1zM352 177h1v1h-1zM353 178h1v1h-1zM354 179h1v1h-1zM355 180h1v1h-1zM356 181h1v1h-1zM357 182h1v1h-1zM358 183h1v1h-1zM359 184h1v1h-1zM360 185h1v1h-1zM361 186h1v1h-1zM362 187h1v1h-1zM363 188h2v1h-2zM365 189h2v1h-2zM367 190h2v1h-2zM369 191h2v1h-2zM371 192h1v1h-1zM372 193h2v1h-2zM374 194h1v1h-1zM375 195h3v1h-3zM378 196h3v1h-3zM381 197h2v1h-2zM383 198h3v1h-3zM386 199h3v1h-3zM389 200h2v1h-2zM391 201h11v1h-11zM402 202h4v1h-4zM406 203h8v1h-8zM414 204h4v1h-4zM418 203h4v1h-4zM422 204h4v1h-4zM426 205h8v1h-8zM434 204h16v1h-16zM450 205h4v1h-4zM454 204h4v1h-4zM458 203h3v1h-3zM461 202h2v1h-2zM463 201h1v1h-1zM464 200h2v1h-2zM466 199h1v1h-1zM467 198h2v1h-2zM469 197h2v1h-2zM471 196h2v1h-2zM473 195h2v1h-2zM475 194h2v1h-2zM477 193h2v1h-2zM479 192h1v1h-1zM480 191h2v1h-2zM482 190h1v1h-1zM483 189h3v1h-3zM486 188h3v1h-3zM489 187h2v1h-2zM491 186h1v1h-1zM492 185h1v1h-1zM493 183h1v2h-1zM494 182h1v1h-1zM495 181h1v1h-1zM496 180h1v1h-1zM497 178h1v2h-1zM498 177h1v1h-1zM499 176h1v1h-1zM500 174h1v2h-1zM501 173h1v1h-1zM502 171h1v2h-1zM503 170h1v1h-1zM504 168h1v2h-1zM505 167h1v1h-1zM506 165h1v2h-1zM507 164h1v1h-1zM508 163h1v1h-1zM509 162h1v1h-1zM510 161h1v1h-1zM511 160h2v1h-2zM513 159h2v1h-2zM515 158h3v1h-3zM518 157h15v1h-15zM533 158h2v1h-2zM535 159h1v1h-1zM536 160h2v1h-2zM538 161h1v1h-1zM539 162h1v1h-1zM540 163h1v1h-1zM541 164h1v1h-1zM542 165h1v1h-1zM543 166h1v1h-1zM544 167h1v2h-1zM545 169h1v2h-1zM546 171h1v2h-1zM547 173h1v2h-1zM548 175h1v2h-1zM549 177h1v2h-1zM550 179h1v2h-1zM551 181h1v3h-1zM552 184h1v2h-1zM553 186h1v2h-1zM554 188h1v2h-1zM555 190h1v2h-1zM556 192h1v2h-1zM557 194h1v3h-1zM558 197h1v2h-1zM559 199h1v3h-1zM560 202h1v4h-1zM561 206h1v4h-1zM562 210h1v4h-1zM563 214h1v3h-1zM564 217h1v4h-1zM565 221h1v4h-1zM566 225h1v4h-1zM567 229h1v4h-1zM568 233h1v4h-1zM569 237h1v4h-1zM570 241h1v4h-1zM571 245h1v3h-1zM572 248h1v4h-1zM573 252h1v3h-1zM574 255h1v4h-1zM575 259h1v3h-1zM576 262h1v3h-1zM577 265h1v4h-1zM578 269h1v3h-1zM579 272h1v3h-1zM580 275h1v2h-1zM581 277h1v2h-1zM582 279h1v2h-1zM583 281h1v1h-1zM584 282h1v2h-1zM585 284h1v2h-1zM586 286h1v2h-1zM587 288h1v1h-1zM588 289h1v1h-1zM589 290h1v2h-1zM590 292h1v1h-1zM591 293h1v1h-1zM592 294h1v2h-1zM593 296h1v2h-1zM594 298h1v2h-1zM595 300h5v1h-5zM600 299h1v1h-1zM601 298h1v1h-1zM602 297h1v1h-1zM603 295h1v2h-1zM604 293h1v2h-1zM605 291h1v2h-1zM606 289h1v2h-1zM607 286h1v3h-1zM608 284h1v2h-1zM609 281h1v3h-1zM610 279h1v2h-1zM611 276h1v3h-1zM612 273h1v3h-1zM613 269h1v4h-1zM614 266h1v3h-1zM615 263h1v3h-1zM616 259h1v4h-1zM617 255h1v4h-1zM618 251h1v4h-1zM619 248h1v3h-1zM620 244h1v4h-1zM621 241h1v3h-1zM622 237h1v4h-1zM623 233h1v4h-1zM624 229h1v4h-1zM625 225h1v4h-1zM626 221h1v4h-1zM627 218h1v3h-1zM628 216h1v2h-1zM629 213h1v3h-1zM630 211h1v2h-1zM631 209h1v2h-1zM632 207h1v2h-1zM633 206h1v1h-1zM634 204h1v2h-1zM635 203h6v1h-6zM641 202h2v1h-2zM643 201h2v1h-2zM645 200h2v1h-2zM647 199h1v1h-1zM648 197h1v2h-1zM649 195h1v2h-1zM650 193h1v2h-1zM651 192h1v1h-1zM652 191h2v1h-2zM654 190h1v1h-1zM655 189h3v1h-3zM658 188h2v1h-2zM660 189h2v1h-2zM662 190h1v1h-1zM663 191h1v1h-1zM664 192h2v1h-2zM666 193h1v1h-1zM667 194h1v1h-1zM668 195h1v2h-1zM669 197h1v1h-1zM670 198h1v2h-1zM671 200h1v1h-1zM672 201h1v1h-1zM673 202h1v1h-1zM674 203h1v1h-1zM675 204h1v1h-1zM676 205h1v1h-1zM677 206h1v2h-1zM678 208h1v1h-1zM679 209h1v1h-1zM680 210h1v1h-1zM681 211h1v1h-1zM682 212h1v1h-1zM683 213h5v1h-5zM688 212h1v1h-1zM689 211h1v1h-1zM690 210h1v1h-1zM691 209h2v1h-2zM693 208h2v1h-2zM695 207h2v1h-2zM697 206h2v1h-2zM699 205h2v1h-2zM701 204h2v1h-2zM703 203h3v1h-3zM706 204h4v1h-4zM710 205h2v1h-2zM712 206h1v1h-1zM713 207h1v1h-1zM714 208h1v1h-1zM715 209h2v1h-2zM717 210h2v1h-2zM719 211h2v1h-2zM721 212h2v1h-2zM723 213h3v1h-3zM726 212h4v1h-4zM730 211h2v1h-2zM732 210h2v1h-2zM734 209h1v1h-1zM735 208h1v1h-1zM736 207h1v1h-1zM737 206h1v1h-1zM738 205h1v1h-1zM739 204h1v1h-1zM740 203h2v1h-2zM742 202h1v1h-1zM743 201h2v1h-2zM745 200h2v1h-2zM747 199h2v1h-2zM749 198h2v1h-2zM751 197h3v1h-3zM754 198h2v1h-2zM756 199h2v1h-2zM758 200h1v1h-1zM759 201h6v1h-6zM765 200h2v1h-2zM767 199h2v1h-2zM769 198h2v1h-2zM771 197h2v1h-2zM773 196h2v1h-2zM775 195h3v1h-3zM778 196h8v1h-8zM786 197h2v1h-2zM788 198h2v1h-2zM790 199h1v1h-1zM791 200h3v1h-3zM794 201h4v1h-4zM798 202h4v1h-4zM802 203h3v1h-3zM805 202h2v1h-2zM807 201h1v1h-1zM808 200h2v1h-2zM810 199h1v1h-1zM811 198h1v1h-1zM812 197h1v1h-1zM813 196h1v1h-1zM814 195h1v1h-1zM815 194h7v1h-7zM822 195h4v1h-4zM826 196h12v1h-12zM838 197h4v1h-4zM842 198h4v1h-4zM846 199h2v1h-2zM848 200h2v1h-2zM850 201h1v1h-1zM851 202h1v1h-1zM852 203h1v1h-1zM853 204h1v1h-1zM854 205h1v1h-1zM855 206h1v1h-1zM856 207h2v1h-2zM858 208h1v1h-1zM859 209h1v1h-1zM860 210h2v1h-2zM862 211h1v1h-1zM863 212h1v1h-1zM864 213h2v1h-2zM866 214h1v1h-1zM867 215h1v1h-1zM868 216h1v2h-1zM869 218h1v1h-1zM870 219h1v2h-1zM871 221h5v1h-5zM876 222h2v1h-2zM878 223h1v1h-1zM879 224h1v1h-1zM880 225h1v1h-1zM881 226h1v2h-1zM882 228h1v1h-1zM883 229h1v2h-1zM884 231h1v2h-1zM885 233h1v2h-1zM886 235h1v2h-1zM887 237h1v2h-1zM888 239h1v2h-1zM889 241h1v2h-1zM890 243h1v2h-1zM891 245h1v2h-1zM892 247h1v2h-1zM893 249h1v2h-1zM894 251h1v2h-1zM895 253h1v2h-1zM896 255h1v2h-1zM897 257h1v1h-1zM898 258h1v2h-1zM899 260h1v1h-1zM900 261h2v1h-2zM902 262h1v1h-1zM903 263h1v1h-1zM904 264h1v1h-1zM905 265h1v1h-1zM906 266h1v1h-1zM907 267h1v1h-1zM908 268h1v1h-1zM909 269h1v1h-1zM910 270h1v1h-1zM911 271h1v1h-1zM912 272h1v1h-1zM913 273h1v1h-1zM914 274h1v1h-1zM915 275h1v1h-1zM916 276h2v1h-2zM918 277h1v1h-1zM919 278h1v1h-1zM920 279h2v1h-2zM922 280h1v1h-1zM923 281h2v1h-2zM925 282h2v1h-2zM927 283h1v1h-1zM928 284h1v1h-1zM929 285h1v2h-1zM930 287h1v1h-1zM931 288h1v1h-1zM932 289h1v2h-1zM933 291h1v1h-1zM934 292h1v2h-1zM935 294h1v1h-1zM936 295h2v1h-2zM938 296h1v1h-1zM939 297h7v1h-7zM946 296h2v1h-2zM948 295h2v1h-2zM950 294h1v1h-1zM951 293h5v1h-5zM956 294h2v1h-2zM958 295h1v1h-1zM959 296h3v1h-3zM962 297h3v1h-3zM965 298h2v1h-2zM967 299h3v1h-3zM970 300h3v1h-3zM973 301h2v1h-2zM975 302h1v1h-1zM976 303h1v1h-1zM977 304h1v1h-1zM978 305h1v1h-1zM979 306h1v1h-1zM980 307h2v1h-2zM982 308h1v1h-1zM983 309h1v1h-1zM984 310h2v1h-2zM986 311h1v1h-1zM987 312h2v1h-2zM989 313h2v1h-2zM991 314h2v1h-2zM993 315h2v1h-2zM995 316h2v1h-2zM997 317h2v1h-2zM999 318h1v1h-1zM1000 319h2v1h-2zM1002 320h1v1h-1zM1003 321h1v1h-1zM1004 322h2v1h-2zM1006 323h1v1h-1zM1007 324h2v1h-2zM1009 325h2v1h-2zM1011 326h3v1h-3zM1014 327h3v1h-3zM1017 328h2v1h-2zM1019 329h2v1h-2zM1021 330h2v1h-2zM1023 331h2v1h-2zM1025 332h2v1h-2zM1027 333h1v1h-1zM1028 334h1v1h-1zM1029 335h1v1h-1zM1030 336h1v1h-1zM1031 337h1v1h-1zM1032 338h1v1h-1zM1033 339h1v1h-1zM1034 340h1v1h-1zM1035 341h1v1h-1zM1036 342h1v1h-1zM1037 343h1v2h-1zM1038 345h1v1h-1zM1039 346h1v1h-1zM1040 347h1v1h-1zM1041 348h1v2h-1zM1042 350h1v1h-1zM1043 351h1v1h-1zM1044 352h1v2h-1zM1045 354h1v1h-1zM1046 355h1v2h-1zM1047 357h1v1h-1zM1048 358h1v2h-1zM1049 360h1v1h-1zM1050 361h1v2h-1zM1051 363h1v2h-1zM1052 365h1v2h-1zM1053 367h1v2h-1zM1054 369h1v2h-1zM1055 371h1v2h-1zM1056 373h1v2h-1zM1057 375h1v2h-1zM1058 377h1v2h-1zM1059 379h1v3h-1zM1060 382h1v2h-1zM1061 384h1v2h-1zM1062 386h1v2h-1zM1063 388h1v3h-1zM1064 391h1v2h-1zM1065 393h1v3h-1zM1066 396h1v2h-1zM1067 398h1v3h-1zM1068 401h1v2h-1zM1069 403h1v3h-1zM1070 406h1v2h-1zM1071 408h1v2h-1zM1072 410h1v2h-1zM1073 412h1v1h-1zM1074 413h1v2h-1zM1075 415h1v2h-1zM1076 417h1v2h-1zM1077 419h1v2h-1zM1078 421h1v2h-1zM1079 423h1v2h-1zM1080 425h1v2h-1zM1081 427h1v3h-1zM1082 430h1v2h-1zM1083 432h1v3h-1zM1084 435h1v2h-1zM1085 437h1v2h-1zM1086 439h1v2h-1zM1087 441h1v1h-1zM1088 442h1v1h-1zM1089 443h1v2h-1zM1090 445h1v1h-1zM1091 446h1v1h-1zM1092 447h1v1h-1zM1093 448h1v1h-1zM1094 449h1v1h-1zM1095 450h2v1h-2zM1097 451h2v1h-2zM1099 452h2v1h-2zM1101 453h2v1h-2zM1103 454h1v1h-1zM1104 455h2v1h-2zM1106 456h1v1h-1zM1107 457h2v1h-2zM1109 458h2v1h-2zM1111 459h2v1h-2zM1113 460h2v1h-2zM1115 461h3v1h-3zM1118 462h3v1h-3zM1121 463h2v1h-2zM1123 464h1v1h-1zM1124 465h2v1h-2zM1126 466h1v1h-1zM1127 467h1v1h-1zM1128 468h2v1h-2zM1130 469h1v1h-1zM1131 470h2v1h-2zM1133 471h2v1h-2zM1135 472h1v1h-1zM1136 471h2v1h-2zM1138 470h1v1h-1zM1139 469h7v1h-7zM1146 470h4v1h-4zM1150 471h3v1h-3zM1153 472h2v1h-2zM1155 473h1v1h-1zM1156 474h2v1h-2zM1158 475h1v1h-1zM1159 476h2v1h-2zM1161 477h2v1h-2zM1163 478h2v1h-2zM1165 479h2v1h-2zM1167 480h1v1h-1zM1168 481h2v1h-2zM1170 482h1v1h-1zM1171 483h7v1h-7zM1178 482h2v1h-2zM1180 481h2v1h-2zM1182 480h1v1h-1zM1183 479h3v1h-3zM1186 478h4v1h-4zM1190 477h4v1h-4zM1194 476h4v1h-4zM1198 475h4v1h-4zM1202 474h16v1h-16zM1218 473h3v1h-3zM1221 472h2v1h-2zM1223 471h2v1h-2zM1225 470h2v1h-2zM1227 469h3v1h-3zM1230 468h4v1h-4zM1234 469h8v1h-8zM1242 468h3v1h-3zM1245 467h2v1h-2zM1247 466h1v1h-1zM1248 465h2v1h-2zM1250 464h1v1h-1zM1251 463h1v1h-1zM1252 462h2v1h-2zM1254 461h1v1h-1zM1255 460h1v1h-1zM1256 459h1v1h-1zM1257 457h1v2h-1zM1258 456h1v1h-1zM1259 455h1v1h-1zM1260 453h1v2h-1zM1261 451h1v2h-1zM1262 449h1v2h-1zM1263 448h1v1h-1zM1264 447h1v1h-1zM1265 445h1v2h-1zM1266 444h1v1h-1zM1267 443h1v1h-1zM1268 442h1v1h-1zM1269 441h1v1h-1zM1270 440h1v1h-1z"/>
<path fill="#ffa500" d="M7 107h3v1h-3zM10 108h3v1h-3zM13 107h2v1h-2zM15 105h1v2h-1zM16 103h1v2h-1zM17 101h1v2h-1zM18 99h1v2h-1zM19 97h1v2h-1zM20 96h1v1h-1zM21 95h1v1h-1zM22 94h1v1h-1zM23 93h1v1h-1zM24 92h2v1h-2zM26 91h1v1h-1zM27 90h1v1h-1zM28 89h1v1h-1zM29 87h1v2h-1zM30 86h1v1h-1zM31 85h1v1h-1zM32 84h1v1h-1zM33 82h1v2h-1zM34 81h1v1h-1zM35 80h1v1h-1zM36 81h2v1h-2zM38 82h1v1h-1zM39 83h3v1h-3zM42 82h2v1h-2zM44 83h2v1h-2zM46 84h1v1h-1zM47 85h2v1h-2zM49 86h2v1h-2zM51 87h3v1h-3zM54 88h3v1h-3zM57 87h2v1h-2zM59 86h2v1h-2zM61 85h2v1h-2zM63 84h1v1h-1zM64 83h2v1h-2zM66 82h1v1h-1zM67 81h1v1h-1zM68 80h2v1h-2zM70 79h1v1h-1zM71 78h3v1h-3zM74 77h2v1h-2zM75 78h1v1h-1zM76 79h1v2h-1zM77 81h1v2h-1zM78 83h1v2h-1zM79 85h1v3h-1zM80 88h1v3h-1zM81 91h1v2h-1zM82 93h1v3h-1zM83 96h1v3h-1zM84 99h1v3h-1zM85 102h1v2h-1zM86 104h1v3h-1zM87 107h1v3h-1zM88 110h1v2h-1zM89 112h1v3h-1zM90 115h1v2h-1zM91 117h1v2h-1zM92 119h1v2h-1zM93 121h1v1h-1zM94 122h1v2h-1zM95 124h1v1h-1zM96 123h2v1h-2zM98 122h1v1h-1zM99 121h1v1h-1zM100 119h1v2h-1zM101 118h1v1h-1zM102 116h1v2h-1zM103 114h1v2h-1zM104 112h1v2h-1zM105 110h1v2h-1zM106 108h1v2h-1zM107 106h1v2h-1zM108 104h1v2h-1zM109 102h1v2h-1zM110 100h1v2h-1zM111 99h1v1h-1zM112 97h1v2h-1zM113 96h1v1h-1zM114 94h1v2h-1zM115 93h1v1h-1zM116 92h2v1h-2zM118 91h1v1h-1zM119 90h3v1h-3zM122 91h2v1h-2zM124 92h1v2h-1zM125 94h1v2h-1zM126 96h1v2h-1zM127 98h1v2h-1zM128 100h1v2h-1zM129 102h1v2h-1zM130 104h1v2h-1zM131 106h1v3h-1zM132 109h1v2h-1zM133 111h1v2h-1zM134 113h1v2h-1zM135 115h1v2h-1zM136 117h1v2h-1zM137 119h1v2h-1zM138 121h1v2h-1zM139 123h3v1h-3zM142 122h2v1h-2zM144 121h1v1h-1zM145 119h1v2h-1zM146 118h1v1h-1zM147 116h1v2h-1zM148 114h1v2h-1zM149 112h1v2h-1zM150 110h1v2h-1zM151 107h1v3h-1zM152 105h1v2h-1zM153 103h1v2h-1zM154 101h1v2h-1zM155 98h1v3h-1zM156 95h1v3h-1zM157 93h1v2h-1zM158 90h1v3h-1zM159 88h2v1h-2zM159 89h1v1h-1zM161 87h2v1h-2zM163 86h2v1h-2zM165 85h2v1h-2zM167 84h1v1h-1zM168 85h1v1h-1zM169 86h1v2h-1zM170 88h1v1h-1zM171 89h1v2h-1zM172 91h1v2h-1zM173 93h1v2h-1zM174 95h1v2h-1zM175 97h1v1h-1zM176 98h1v2h-1zM177 100h1v2h-1zM178 102h1v2h-1zM179 104h1v1h-1zM180 105h1v1h-1zM181 106h1v1h-1zM182 107h1v1h-1zM183 108h1v1h-1zM184 109h1v2h-1zM185 111h1v1h-1zM186 112h1v2h-1zM187 114h5v1h-5zM192 113h2v1h-2zM194 112h1v1h-1zM195 111h2v1h-2zM197 110h2v1h-2zM199 109h1v1h-1zM200 107h1v2h-1zM201 106h1v1h-1zM202 104h1v2h-1zM203 102h1v2h-1zM204 100h1v2h-1zM205 98h1v2h-1zM206 96h1v2h-1zM207 95h1v1h-1zM208 93h1v2h-1zM209 91h1v2h-1zM210 89h1v2h-1zM211 88h1v1h-1zM212 86h1v2h-1zM213 85h1v1h-1zM214 83h1v2h-1zM215 82h1v1h-1zM216 80h1v2h-1zM217 78h1v2h-1zM218 76h1v2h-1zM219 75h1v1h-1zM220 74h2v1h-2zM222 73h1v1h-1zM223 72h2v1h-2zM225 71h2v1h-2zM227 70h2v1h-2zM229 69h2v1h-2zM231 68h1v1h-1zM232 69h1v1h-1zM233 70h1v2h-1zM234 72h1v1h-1zM235 73h1v2h-1zM236 75h1v3h-1zM237 78h1v2h-1zM238 80h1v3h-1zM239 83h1v3h-1zM240 86h1v2h-1zM241 88h1v2h-1zM242 90h1v2h-1zM243 92h1v3h-1zM244 95h1v2h-1zM245 97h1v3h-1zM246 100h1v2h-1zM247 102h1v3h-1zM248 105h1v2h-1zM249 107h1v2h-1zM250 109h1v2h-1zM251 111h1v1h-1zM252 112h2v1h-2zM254 113h1v1h-1zM255 114h3v1h-3zM258 113h3v1h-3zM261 114h2v1h-2zM263 115h2v1h-2zM265 116h2v1h-2zM267 117h1v1h-1zM268 118h1v1h-1zM269 119h1v1h-1zM270 120h1v1h-1zM271 121h1v1h-1zM272 122h1v2h-1zM273 124h1v1h-1zM274 125h1v2h-1zM275 127h1v1h-1zM276 128h1v1h-1zM277 129h1v1h-1zM278 130h1v1h-1zM279 131h2v1h-2zM281 132h2v1h-2zM283 133h1v1h-1zM284 134h1v2h-1zM285 136h1v1h-1zM286 137h1v2h-1zM287 139h1v1h-1zM288 140h1v1h-1zM289 141h1v2h-1zM290 143h1v1h-1zM291 144h1v1h-1zM292 145h1v1h-1zM293 146h1v1h-1zM294 147h1v1h-1zM295 148h2v1h-2zM297 149h2v1h-2zM299 150h3v1h-3zM302 151h3v1h-3zM305 150h2v1h-2zM307 149h3v1h-3zM310 150h4v1h-4zM314 149h6v1h-6zM320 150h1v2h-1zM321 152h1v1h-1zM322 153h1v2h-1zM323 155h1v2h-1zM324 157h1v2h-1zM325 159h1v2h-1zM326 161h1v2h-1zM327 163h1v2h-1zM328 165h1v2h-1zM329 167h1v3h-1zM330 170h1v2h-1zM331 172h1v3h-1zM332 175h1v3h-1zM333 178h1v2h-1zM334 180h1v3h-1zM335 183h1v3h-1zM336 186h1v3h-1zM337 189h1v3h-1zM338 192h1v3h-1zM339 195h1v2h-1zM340 197h1v2h-1zM341 199h1v1h-1zM342 200h1v2h-1zM343 202h1v1h-1zM344 203h2v1h-2zM346 204h1v1h-1zM347 205h1v1h-1zM348 204h2v1h-2zM350 203h1v1h-1zM351 202h5v1h-5zM356 201h1v1h-1zM357 200h1v1h-1zM358 199h1v1h-1zM359 198h3v1h-3zM362 197h3v1h-3zM365 196h2v1h-2zM367 195h3v1h-3zM370 194h2v1h-2zM372 193h1v1h-1zM373 192h1v1h-1zM374 191h1v1h-1zM375 190h3v1h-3zM378 191h3v1h-3zM381 192h2v1h-2zM383 193h1v1h-1zM384 194h1v2h-1zM385 196h1v2h-1zM386 198h1v2h-1zM387 200h1v2h-1zM388 202h1v2h-1zM389 204h1v2h-1zM390 206h1v2h-1zM391 208h1v1h-1zM392 209h1v1h-1zM393 210h1v2h-1zM394 212h1v1h-1zM395 213h1v1h-1zM396 214h2v1h-2zM398 215h1v1h-1zM399 216h2v1h-2zM401 215h2v1h-2zM403 214h2v1h-2zM405 213h2v1h-2zM407 212h1v1h-1zM408 211h1v1h-1zM409 209h1v2h-1zM410 208h1v1h-1zM411 207h2v1h-2zM413 206h2v1h-2zM415 205h2v1h-2zM417 204h2v1h-2zM419 203h3v1h-3zM422 202h3v1h-3zM425 201h2v1h-2zM427 200h1v1h-1zM428 199h1v1h-1zM429 198h1v1h-1zM430 197h1v1h-1zM431 196h1v1h-1zM432 195h1v1h-1zM433 193h1v2h-1zM434 192h1v1h-1zM435 191h2v1h-2zM437 192h2v1h-2zM439 193h1v1h-1zM440 194h1v2h-1zM441 196h1v1h-1zM442 197h1v2h-1zM443 199h1v1h-1zM444 200h1v2h-1zM445 202h1v1h-1zM446 203h1v2h-1zM447 205h1v1h-1zM448 206h1v2h-1zM449 208h1v2h-1zM450 210h1v2h-1zM451 212h1v1h-1zM452 213h1v1h-1zM453 214h1v2h-1zM454 216h1v1h-1zM455 217h1v1h-1zM456 216h1v1h-1zM457 214h1v2h-1zM458 213h1v1h-1zM459 211h1v2h-1zM460 209h1v2h-1zM461 207h1v2h-1zM462 205h1v2h-1zM463 202h1v3h-1zM464 199h1v3h-1zM465 196h1v3h-1zM466 193h1v3h-1zM467 190h1v3h-1zM468 188h1v2h-1zM469 185h1v3h-1zM470 183h1v2h-1zM471 181h1v2h-1zM472 179h1v2h-1zM473 177h1v2h-1zM474 175h1v2h-1zM475 174h1v1h-1zM476 173h1v1h-1zM477 172h1v1h-1zM478 171h1v1h-1zM479 170h3v1h-3zM482 169h3v1h-3zM485 168h2v1h-2zM487 167h1v1h-1zM488 166h1v1h-1zM489 165h1v1h-1zM490 164h1v1h-1zM491 163h1v1h-1zM492 162h1v1h-1zM493 161h1v1h-1zM494 160h1v1h-1zM495 159h1v1h-1zM496 158h1v1h-1zM497 156h1v2h-1zM498 155h1v1h-1zM499 154h1v1h-1zM500 153h1v1h-1zM501 152h1v1h-1zM502 151h1v1h-1zM503 150h1v1h-1zM504 149h1v1h-1zM505 148h1v1h-1zM506 147h1v1h-1zM507 146h3v1h-3zM510 145h2v1h-2zM512 146h2v1h-2zM514 147h1v1h-1zM515 148h1v1h-1zM516 149h2v1h-2zM518 150h1v1h-1zM519 151h1v1h-1zM520 152h2v1h-2zM522 153h1v1h-1zM523 154h1v1h-1zM524 155h1v2h-1zM525 157h1v2h-1zM526 159h1v2h-1zM527 161h1v1h-1zM528 162h1v1h-1zM529 163h1v1h-1zM530 164h1v1h-1zM531 165h1v2h-1zM532 167h1v2h-1zM533 169h1v2h-1zM534 171h1v2h-1zM535 173h1v2h-1zM536 175h1v2h-1zM537 177h1v2h-1zM538 179h1v2h-1zM539 181h1v2h-1zM540 183h1v3h-1zM541 186h1v3h-1zM542 189h1v3h-1zM543 192h1v3h-1zM544 195h1v4h-1zM545 199h1v4h-1zM546 203h1v4h-1zM547 207h1v4h-1zM548 211h1v5h-1zM549 216h1v5h-1zM550 221h1v5h-1zM551 226h1v4h-1zM552 230h1v3h-1zM553 233h1v4h-1zM554 237h1v3h-1zM555 240h1v4h-1zM556 244h1v4h-1zM557 248h1v4h-1zM558 252h1v4h-1zM559 256h1v6h-1zM560 262h1v6h-1zM561 268h1v6h-1zM562 274h1v6h-1zM563 280h1v6h-1zM564 286h1v5h-1zM565 291h1v6h-1zM566 297h1v5h-1zM567 302h1v5h-1zM568 307h1v6h-1zM569 313h1v6h-1zM570 319h1v6h-1zM571 325h1v5h-1zM572 330h1v5h-1zM573 335h1v6h-1zM574 341h1v5h-1zM575 346h1v4h-1zM576 350h1v3h-1zM577 353h1v2h-1zM578 355h1v3h-1zM579 358h1v2h-1zM580 354h1v4h-1zM581 350h1v4h-1zM582 346h1v4h-1zM583 343h1v3h-1zM584 339h1v4h-1zM585 335h1v4h-1zM586 331h1v4h-1zM587 326h1v5h-1zM588 320h1v6h-1zM589 314h1v6h-1zM590 308h1v6h-1zM591 304h1v4h-1zM592 301h1v3h-1zM593 298h1v3h-1zM594 295h1v3h-1zM595 290h1v5h-1zM596 284h1v6h-1zM597 278h1v6h-1zM598 272h1v6h-1zM599 266h1v6h-1zM600 262h1v4h-1zM601 258h1v4h-1zM602 254h1v4h-1zM603 248h1v6h-1zM604 241h1v7h-1zM605 234h1v7h-1zM606 227h1v7h-1zM607 220h1v7h-1zM608 213h1v7h-1zM609 206h1v7h-1zM610 199h1v7h-1zM611 191h1v8h-1zM612 181h1v10h-1zM613 171h1v10h-1zM614 161h1v10h-1zM615 154h1v7h-1zM616 150h1v4h-1zM617 146h1v4h-1zM618 142h1v4h-1zM619 139h1v3h-1zM620 137h1v2h-1zM621 135h1v2h-1zM622 133h1v2h-1zM623 132h1v1h-1zM624 133h1v2h-1zM625 135h1v1h-1zM626 136h1v2h-1zM627 138h1v3h-1zM628 141h1v5h-1zM629 146h1v5h-1zM630 151h1v5h-1zM631 156h1v6h-1zM632 162h1v8h-1zM633 170h1v8h-1zM634 178h1v8h-1zM635 186h1v7h-1zM636 193h1v6h-1zM637 199h1v7h-1zM638 206h1v6h-1zM639 212h1v6h-1zM640 218h1v5h-1zM641 223h1v4h-1zM642 227h1v5h-1zM643 232h1v4h-1zM644 236h1v4h-1zM645 240h1v3h-1zM646 243h1v4h-1zM647 247h3v1h-3zM647 248h1v1h-1zM650 246h1v1h-1zM651 244h1v2h-1zM652 240h1v4h-1zM653 236h1v4h-1zM654 232h1v4h-1zM655 228h1v4h-1zM656 222h1v6h-1zM657 217h1v5h-1zM658 211h1v6h-1zM659 207h1v4h-1zM660 203h1v4h-1zM661 200h1v3h-1zM662 196h1v4h-1zM663 193h1v3h-1zM664 190h1v3h-1zM665 186h1v4h-1zM666 183h1v3h-1zM667 181h1v2h-1zM668 180h2v1h-2zM670 179h1v1h-1zM671 178h2v1h-2zM673 179h2v1h-2zM675 180h1v2h-1zM676 182h1v2h-1zM677 184h1v3h-1zM678 187h1v2h-1zM679 189h1v3h-1zM680 192h1v3h-1zM681 195h1v2h-1zM682 197h1v3h-1zM683 200h1v3h-1zM684 203h1v2h-1zM685 205h1v3h-1zM686 208h1v2h-1zM687 210h1v2h-1zM688 212h2v1h-2zM690 213h1v1h-1zM691 214h1v2h-1zM692 216h1v2h-1zM693 218h1v3h-1zM694 221h1v2h-1zM695 223h1v2h-1zM696 224h2v1h-2zM698 225h2v1h-2zM700 224h1v1h-1zM701 223h1v1h-1zM702 222h1v1h-1zM703 221h3v1h-3zM706 220h6v1h-6zM712 218h1v2h-1zM713 217h1v1h-1zM714 215h1v2h-1zM715 214h1v1h-1zM716 213h1v1h-1zM717 212h1v1h-1zM718 211h1v1h-1zM719 210h2v1h-2zM721 209h2v1h-2zM723 208h1v1h-1zM724 206h1v2h-1zM725 205h1v1h-1zM726 203h1v2h-1zM727 202h1v1h-1zM728 200h1v2h-1zM729 198h1v2h-1zM730 196h1v2h-1zM731 195h1v1h-1zM732 193h1v2h-1zM733 191h1v2h-1zM734 189h1v2h-1zM735 188h1v1h-1zM736 186h1v2h-1zM737 185h1v1h-1zM738 183h1v2h-1zM739 182h1v1h-1zM740 181h2v1h-2zM742 180h1v1h-1zM743 179h2v1h-2zM745 178h2v1h-2zM747 177h1v1h-1zM748 178h1v2h-1zM749 180h1v2h-1zM750 182h1v2h-1zM751 184h1v2h-1zM752 186h1v4h-1zM753 190h1v3h-1zM754 193h1v4h-1zM755 197h1v3h-1zM756 200h1v3h-1zM757 203h1v3h-1zM758 206h1v3h-1zM759 209h1v3h-1zM760 212h1v2h-1zM761 214h1v3h-1zM762 217h1v2h-1zM763 219h1v2h-1zM764 220h1v1h-1zM765 221h2v1h-2zM767 222h1v1h-1zM768 220h1v2h-1zM769 218h1v2h-1zM770 216h1v2h-1zM771 214h1v2h-1zM772 211h1v3h-1zM773 207h1v4h-1zM774 204h1v3h-1zM775 202h1v2h-1zM776 200h1v2h-1zM777 198h1v2h-1zM778 196h1v2h-1zM779 195h1v1h-1zM780 193h1v2h-1zM781 192h1v1h-1zM782 190h1v2h-1zM783 189h5v1h-5zM788 190h1v2h-1zM789 192h1v1h-1zM790 193h1v2h-1zM791 195h1v1h-1zM792 196h1v1h-1zM793 197h1v1h-1zM794 198h1v1h-1zM795 199h1v1h-1zM796 198h2v1h-2zM798 197h1v1h-1zM799 196h3v1h-3zM802 195h7v1h-7zM809 194h2v1h-2zM811 193h2v1h-2zM813 192h2v1h-2zM815 191h1v1h-1zM816 192h1v2h-1zM817 194h1v2h-1zM818 196h1v2h-1zM819 198h2v1h-2zM821 199h2v1h-2zM823 200h6v1h-6zM829 199h2v1h-2zM831 198h3v1h-3zM834 199h3v1h-3zM837 198h2v1h-2zM839 197h3v1h-3zM842 198h2v1h-2zM843 199h1v1h-1zM844 200h1v2h-1zM845 202h1v2h-1zM846 204h1v2h-1zM847 206h1v2h-1zM848 208h1v2h-1zM849 210h1v2h-1zM850 212h1v2h-1zM851 214h1v3h-1zM852 217h1v2h-1zM853 219h1v2h-1zM854 221h1v2h-1zM855 223h1v1h-1zM856 224h1v1h-1zM857 225h1v2h-1zM858 227h1v1h-1zM859 228h1v1h-1zM860 229h1v2h-1zM861 231h1v2h-1zM862 233h1v2h-1zM863 235h1v1h-1zM864 236h2v1h-2zM866 237h1v1h-1zM867 238h1v1h-1zM868 239h1v1h-1zM869 240h1v1h-1zM870 241h1v1h-1zM871 242h7v1h-7zM878 241h2v1h-2zM880 242h1v1h-1zM881 243h1v2h-1zM882 245h1v1h-1zM883 246h1v2h-1zM884 248h1v3h-1zM885 251h1v2h-1zM886 253h1v3h-1zM887 256h1v3h-1zM888 259h1v3h-1zM889 262h1v2h-1zM890 264h1v3h-1zM891 267h1v4h-1zM892 271h1v6h-1zM893 277h1v5h-1zM894 282h1v6h-1zM895 288h1v4h-1zM896 292h1v2h-1zM897 294h1v2h-1zM898 296h1v2h-1zM899 298h1v2h-1zM900 300h2v1h-2zM902 301h1v1h-1zM903 302h2v1h-2zM905 301h2v1h-2zM907 300h1v1h-1zM908 299h1v1h-1zM909 298h1v1h-1zM910 297h1v1h-1zM911 295h1v2h-1zM912 292h1v3h-1zM913 290h1v2h-1zM914 287h1v3h-1zM915 285h6v1h-6zM915 286h1v1h-1zM921 286h2v1h-2zM923 287h3v1h-3zM926 286h3v1h-3zM929 287h2v1h-2zM931 288h1v1h-1zM932 289h1v2h-1zM933 291h1v2h-1zM934 293h1v2h-1zM935 295h1v1h-1zM936 296h2v1h-2zM938 297h1v1h-1zM939 298h1v1h-1zM940 299h1v1h-1zM941 300h1v1h-1zM942 301h1v1h-1zM943 302h2v1h-2zM945 303h2v1h-2zM947 304h5v1h-5zM952 302h1v2h-1zM953 301h1v1h-1zM954 299h1v2h-1zM955 298h3v1h-3zM958 299h2v1h-2zM960 300h2v1h-2zM962 301h1v1h-1zM963 302h2v1h-2zM965 303h2v1h-2zM967 304h2v1h-2zM969 305h2v1h-2zM971 306h1v1h-1zM972 307h1v1h-1zM973 308h1v2h-1zM974 310h1v1h-1zM975 311h1v1h-1zM976 312h1v1h-1zM977 313h1v1h-1zM978 314h1v1h-1zM979 315h1v1h-1zM980 316h1v1h-1zM981 317h1v2h-1zM982 319h1v1h-1zM983 320h1v1h-1zM984 321h1v2h-1zM985 323h1v1h-1zM986 324h1v2h-1zM987 326h1v1h-1zM988 327h1v1h-1zM989 328h1v2h-1zM990 330h1v1h-1zM991 331h1v1h-1zM992 332h1v1h-1zM993 333h1v2h-1zM994 335h1v1h-1zM995 336h13v1h-13zM1008 335h1v1h-1zM1009 334h1v1h-1zM1010 333h1v1h-1zM1011 332h1v1h-1zM1012 331h2v1h-2zM1014 330h1v1h-1zM1015 329h2v1h-2zM1017 330h2v1h-2zM1019 331h1v1h-1zM1020 332h2v1h-2zM1022 333h1v1h-1zM1023 334h3v1h-3zM1026 333h2v1h-2zM1027 334h1v1h-1zM1028 335h1v2h-1zM1029 337h1v2h-1zM1030 339h1v2h-1zM1031 341h1v3h-1zM1032 344h1v3h-1zM1033 347h1v4h-1zM1034 351h1v3h-1zM1035 354h1v3h-1zM1036 357h1v3h-1zM1037 360h1v4h-1zM1038 364h1v3h-1zM1039 367h1v3h-1zM1040 370h1v4h-1zM1041 374h1v4h-1zM1042 378h1v4h-1zM1043 382h1v3h-1zM1044 385h1v4h-1zM1045 389h1v4h-1zM1046 393h1v4h-1zM1047 397h1v3h-1zM1048 400h1v3h-1zM1049 403h1v3h-1zM1050 406h1v3h-1zM1051 409h1v3h-1zM1052 412h1v3h-1zM1053 415h1v2h-1zM1054 417h1v3h-1zM1055 420h1v3h-1zM1056 423h1v2h-1zM1057 425h1v3h-1zM1058 428h1v2h-1zM1059 430h1v3h-1zM1060 433h1v2h-1zM1061 435h1v2h-1zM1062 437h1v2h-1zM1063 439h1v3h-1zM1064 442h1v2h-1zM1065 444h1v3h-1zM1066 447h1v2h-1zM1067 449h1v2h-1zM1068 451h1v2h-1zM1069 453h1v1h-1zM1070 454h1v2h-1zM1071 456h2v1h-2zM1073 455h2v1h-2zM1075 454h3v1h-3zM1078 453h2v1h-2zM1080 454h1v2h-1zM1081 456h1v1h-1zM1082 457h1v2h-1zM1083 459h3v1h-3zM1086 460h6v1h-6zM1092 461h1v1h-1zM1093 462h1v2h-1zM1094 464h1v1h-1zM1095 465h5v1h-5zM1099 464h1v1h-1zM1100 462h1v2h-1zM1101 459h1v3h-1zM1102 457h1v2h-1zM1103 455h3v1h-3zM1103 456h1v1h-1zM1106 454h2v1h-2zM1108 455h1v1h-1zM1109 456h1v1h-1zM1110 457h1v1h-1zM1111 458h1v1h-1zM1112 459h1v1h-1zM1113 460h1v1h-1zM1114 461h1v1h-1zM1115 462h1v1h-1zM1116 463h1v2h-1zM1117 465h1v1h-1zM1118 466h1v2h-1zM1119 468h1v2h-1zM1120 470h1v2h-1zM1121 472h1v2h-1zM1122 474h1v2h-1zM1123 476h1v3h-1zM1124 479h1v2h-1zM1125 481h1v2h-1zM1126 483h1v2h-1zM1127 485h2v1h-2zM1129 484h2v1h-2zM1131 483h3v1h-3zM1134 484h2v1h-2zM1136 483h1v1h-1zM1137 482h1v1h-1zM1138 481h1v1h-1zM1139 480h1v1h-1zM1140 478h1v2h-1zM1141 477h1v1h-1zM1142 475h1v2h-1zM1143 474h1v1h-1zM1144 472h1v2h-1zM1145 470h1v2h-1zM1146 468h1v2h-1zM1147 467h2v1h-2zM1149 468h2v1h-2zM1151 469h5v1h-5zM1156 470h1v1h-1zM1157 471h1v2h-1zM1158 473h1v1h-1zM1159 474h1v2h-1zM1160 476h1v2h-1zM1161 478h1v2h-1zM1162 480h1v2h-1zM1163 482h1v1h-1zM1164 483h1v1h-1zM1165 484h1v2h-1zM1166 486h1v1h-1zM1167 487h1v1h-1zM1168 488h1v2h-1zM1169 490h1v2h-1zM1170 492h1v2h-1zM1171 494h2v1h-2zM1173 495h2v1h-2zM1175 496h1v1h-1zM1176 495h2v1h-2zM1178 494h1v1h-1zM1179 493h1v1h-1zM1180 491h1v2h-1zM1181 490h1v1h-1zM1182 488h1v2h-1zM1183 486h1v2h-1zM1184 484h1v2h-1zM1185 482h1v2h-1zM1186 480h1v2h-1zM1187 477h1v3h-1zM1188 475h1v2h-1zM1189 472h1v3h-1zM1190 470h1v2h-1zM1191 467h1v3h-1zM1192 465h1v2h-1zM1193 463h1v2h-1zM1194 461h1v2h-1zM1195 460h1v1h-1zM1196 459h1v1h-1zM1197 457h1v2h-1zM1198 456h1v1h-1zM1199 455h1v1h-1zM1200 454h2v1h-2zM1202 453h1v1h-1zM1203 452h1v1h-1zM1204 453h1v2h-1zM1205 455h1v2h-1zM1206 457h1v2h-1zM1207 459h2v1h-2zM1209 460h2v1h-2zM1211 461h1v1h-1zM1212 462h1v2h-1zM1213 464h1v1h-1zM1214 465h1v2h-1zM1215 467h1v2h-1zM1216 469h1v2h-1zM1217 471h1v2h-1zM1218 473h1v2h-1zM1219 475h1v2h-1zM1220 477h1v1h-1zM1221 478h1v1h-1zM1222 479h1v1h-1zM1223 480h3v1h-3zM1226 479h11v1h-11zM1237 478h2v1h-2zM1239 476h1v2h-1zM1240 474h1v2h-1zM1241 472h1v2h-1zM1242 470h1v2h-1zM1243 468h1v2h-1zM1244 466h1v2h-1zM1245 463h1v3h-1zM1246 461h1v2h-1zM1247 458h1v3h-1zM1248 455h1v3h-1zM1249 452h1v3h-1zM1250 449h1v3h-1zM1251 445h1v4h-1zM1252 441h1v4h-1zM1253 437h1v4h-1zM1254 433h1v4h-1zM1255 429h1v4h-1zM1256 425h1v4h-1zM1257 421h1v4h-1zM1258 417h1v4h-1zM1259 413h1v4h-1zM1260 410h1v3h-1zM1261 408h1v2h-1zM1262 405h1v3h-1zM1263 403h1v2h-1zM1264 402h1v1h-1zM1265 400h1v2h-1zM1266 399h1v1h-1zM1267 398h3v1h-3zM1270 397h1v1h-1z"/>
</g>
<rect x="7" y="256" width="1592" height="2" fill="#ff0000"/>
<rect x="7" y="315" width="1592" height="2" fill="#ff0000"/>
<rect x="7" y="379" width="1592" height="2" fill="#ff0000"/>
<rect x="7" y="440" width="1592" height="2" fill="#00ff00"/>
<rect x="7" y="516" width="1592" height="2" fill="#0000ff"/>
<path fill="#c0c0c0" d="M1275 27h9v1h-1v1h-1v1h-1v1h-1v1h-1v-1h-1v-1h-1v-1h-1v-1h-1z"/>
<rect x="6" y="26" width="1594" height="1" fill="#000"/>
<rect x="6" y="531" width="1594" height="1" fill="#000"/>
<rect x="6" y="26" width="1" height="506" fill="#000"/>
<rect x="1599" y="26" width="1" height="506" fill="#000"/>
<rect x="6" y="533" width="1594" height="1" fill="#000"/>
<rect x="6" y="625" width="1594" height="1" fill="#000"/>
<rect x="6" y="533" width="1" height="93" fill="#000"/>
<rect x="1599" y="533" width="1" height="93" fill="#000"/>
<rect x="6" y="627" width="1594" height="1" fill="#000"/>
<rect x="6" y="719" width="1594" height="1" fill="#000"/>
<rect x="6" y="627" width="1" height="93" fill="#000"/>
<rect x="1599" y="627" width="1" height="93" fill="#000"/>
<path fill="#ff0000" d="M6 254h6v6h-6z"/>
<rect x="8" y="256" width="2" height="2" fill="#ffffff"/>
<path fill="#ff0000" d="M1593 254h6v6h-6z"/>
<rect x="1595" y="256" width="2" height="2" fill="#ffffff"/>
<path fill="#ff0000" d="M6 313h6v6h-6z"/>
<rect x="8" y="315" width="2" height="2" fill="#ffffff"/>
<path fill="#ff0000" d="M1593 313h6v6h-6z"/>
<rect x="1595" y="315" width="2" height="2" fill="#ffffff"/>
<path fill="#ff0000" d="M6 377h6v6h-6z"/>
<rect x="8" y="379" width="2" height="2" fill="#ffffff"/>
<path fill="#ff0000" d="M1593 377h6v6h-6z"/>
<rect x="1595" y="379" width="2" height="2" fill="#ffffff"/>
<path fill="#00ff00" d="M6 438h6v6h-6z"/>
<rect x="8" y="440" width="2" height="2" fill="#ffffff"/>
<path fill="#00ff00" d="M1593 438h6v6h-6z"/>
<rect x="1595" y="440" width="2" height="2" fill="#ffffff"/>
<path fill="#0000ff" d="M6 514h6v6h-6z"/>
<rect x="8" y="516" width="2" height="2" fill="#ffffff"/>
<path fill="#0000ff" d="M1593 514h6v6h-6z"/>
<rect x="1595" y="516" width="2" height="2" fill="#ffffff"/>
<path fill="#000" d="M10 32h7v1h-1v1h-1v1h-1v1h-1v-1h-1v-1h-1v-1h-1z"/>
<g id="labels" shape-rendering="auto" text-rendering="geometricPrecision">
<text transform="translate(21.6 38) scale(0.972 1)" font-size="10" fill="#000" stroke="#000" stroke-width="0.2" text-anchor="start">USDCHF,Daily</text>
<text transform="translate(92.7 38) scale(0.925 1)" font-size="10" fill="#000" stroke="#000" stroke-width="0.2" text-anchor="start">0.92464</text>
<text transform="translate(128.8 38) scale(0.925 1)" font-size="10" fill="#000" stroke="#000" stroke-width="0.2" text-anchor="start">0.92502</text>
<text transform="translate(164.9 38) scale(0.925 1)" font-size="10" fill="#000" stroke="#000" stroke-width="0.2" text-anchor="start">0.92328</text>
<text transform="translate(201.0 38) scale(0.925 1)" font-size="10" fill="#000" stroke="#000" stroke-width="0.2" text-anchor="start">0.92383</text>
<text transform="translate(10.9 546) scale(0.925 1)" font-size="10" fill="#000" stroke="#000" stroke-width="0.2" text-anchor="start">RSI(14) 61.1987</text>
<text transform="translate(11.0 640) scale(0.95 1)" font-size="10" fill="#000" stroke="#000" stroke-width="0.2" text-anchor="start">MACD(12,26,9)</text>
<text transform="translate(80.2 640) scale(0.905 1)" font-size="10" fill="#000" stroke="#000" stroke-width="0.2" text-anchor="start">0.003895</text>
<text transform="translate(121.1 640) scale(0.905 1)" font-size="10" fill="#000" stroke="#000" stroke-width="0.2" text-anchor="start">0.001936</text>
<rect x="1600" y="33" width="2" height="1" fill="#000" shape-rendering="crispEdges"/>
<text transform="translate(1605 37) scale(0.925 1)" font-size="10" fill="#000" stroke="#000" stroke-width="0.2" text-anchor="start">1.00660</text>
<rect x="1600" y="66" width="2" height="1" fill="#000" shape-rendering="crispEdges"/>
<text transform="translate(1605 70) scale(0.925 1)" font-size="10" fill="#000" stroke="#000" stroke-width="0.2" text-anchor="start">0.99940</text>
<rect x="1600" y="99" width="2" height="1" fill="#000" shape-rendering="crispEdges"/>
<text transform="translate(1605 103) scale(0.925 1)" font-size="10" fill="#000" stroke="#000" stroke-width="0.2" text-anchor="start">0.99220</text>
<rect x="1600" y="132" width="2" height="1" fill="#000" shape-rendering="crispEdges"/>
<text transform="translate(1605 136) scale(0.925 1)" font-size="10" fill="#000" stroke="#000" stroke-width="0.2" text-anchor="start">0.98480</text>
<rect x="1600" y="165" width="2" height="1" fill="#000" shape-rendering="crispEdges"/>
<text transform="translate(1605 169) scale(0.925 1)" font-size="10" fill="#000" stroke="#000" stroke-width="0.2" text-anchor="start">0.97760</text>
<rect x="1600" y="198" width="2" height="1" fill="#000" shape-rendering="crispEdges"/>
<text transform="translate(1605 202) scale(0.925 1)" font-size="10" fill="#000" stroke="#000" stroke-width="0.2" text-anchor="start">0.97040</text>
<rect x="1600" y="231" width="2" height="1" fill="#000" shape-rendering="crispEdges"/>
<text transform="translate(1605 235) scale(0.925 1)" font-size="10" fill="#000" stroke="#000" stroke-width="0.2" text-anchor="start">0.96320</text>
<rect x="1600" y="264" width="2" height="1" fill="#000" shape-rendering="crispEdges"/>
<text transform="translate(1605 268) scale(0.925 1)" font-size="10" fill="#000" stroke="#000" stroke-width="0.2" text-anchor="start">0.95580</text>
<rect x="1600" y="297" width="2" height="1" fill="#000" shape-rendering="crispEdges"/>
<text transform="translate(1605 301) scale(0.925 1)" font-size="10" fill="#000" stroke="#000" stroke-width="0.2" text-anchor="start">0.94860</text>
<rect x="1600" y="330" width="2" height="1" fill="#000" shape-rendering="crispEdges"/>
<text transform="translate(1605 334) scale(0.925 1)" font-size="10" fill="#000" stroke="#000" stroke-width="0.2" text-anchor="start">0.94140</text>
<rect x="1600" y="363" width="2" height="1" fill="#000" shape-rendering="crispEdges"/>
<text transform="translate(1605 367) scale(0.925 1)" font-size="10" fill="#000" stroke="#000" stroke-width="0.2" text-anchor="start">0.93400</text>
<rect x="1600" y="396" width="2" height="1" fill="#000" shape-rendering="crispEdges"/>
<text transform="translate(1605 400) scale(0.925 1)" font-size="10" fill="#000" stroke="#000" stroke-width="0.2" text-anchor="start">0.92680</text>
<rect x="1600" y="429" width="2" height="1" fill="#000" shape-rendering="crispEdges"/>
<text transform="translate(1605 433) scale(0.925 1)" font-size="10" fill="#000" stroke="#000" stroke-width="0.2" text-anchor="start">0.91960</text>
<rect x="1600" y="462" width="2" height="1" fill="#000" shape-rendering="crispEdges"/>
<text transform="translate(1605 466) scale(0.925 1)" font-size="10" fill="#000" stroke="#000" stroke-width="0.2" text-anchor="start">0.91220</text>
<rect x="1600" y="495" width="2" height="1" fill="#000" shape-rendering="crispEdges"/>
<text transform="translate(1605 499) scale(0.925 1)" font-size="10" fill="#000" stroke="#000" stroke-width="0.2" text-anchor="start">0.90500</text>
<rect x="1600" y="528" width="2" height="1" fill="#000" shape-rendering="crispEdges"/>
<text transform="translate(1605 532) scale(0.925 1)" font-size="10" fill="#000" stroke="#000" stroke-width="0.2" text-anchor="start">0.89780</text>
<rect x="1601" y="251" width="41" height="11" fill="#ff0000" shape-rendering="crispEdges"/>
<text transform="translate(1605 260) scale(0.925 1)" font-size="10" fill="#fff" stroke="#fff" stroke-width="0.2" text-anchor="start">0.95740</text>
<rect x="1601" y="310" width="41" height="11" fill="#ff0000" shape-rendering="crispEdges"/>
<text transform="translate(1605 319) scale(0.925 1)" font-size="10" fill="#fff" stroke="#fff" stroke-width="0.2" text-anchor="start">0.94436</text>
<rect x="1601" y="374" width="41" height="11" fill="#ff0000" shape-rendering="crispEdges"/>
<text transform="translate(1605 383) scale(0.925 1)" font-size="10" fill="#fff" stroke="#fff" stroke-width="0.2" text-anchor="start">0.93024</text>
<rect x="1601" y="404" width="41" height="11" fill="#000000" shape-rendering="crispEdges"/>
<text transform="translate(1605 413) scale(0.925 1)" font-size="10" fill="#fff" stroke="#fff" stroke-width="0.2" text-anchor="start">0.92383</text>
<rect x="1601" y="435" width="41" height="11" fill="#00ff00" shape-rendering="crispEdges"/>
<text transform="translate(1605 444) scale(0.925 1)" font-size="10" fill="#fff" stroke="#fff" stroke-width="0.2" text-anchor="start">0.91697</text>
<rect x="1601" y="511" width="41" height="11" fill="#0000ff" shape-rendering="crispEdges"/>
<text transform="translate(1605 520) scale(0.925 1)" font-size="10" fill="#fff" stroke="#fff" stroke-width="0.2" text-anchor="start">0.90026</text>
<text transform="translate(1602.5 544) scale(0.925 1)" font-size="10" fill="#000" stroke="#000" stroke-width="0.2" text-anchor="start">100</text>
<text transform="translate(1602.5 565) scale(0.925 1)" font-size="10" fill="#000" stroke="#000" stroke-width="0.2" text-anchor="start">70</text>
<text transform="translate(1602.5 601) scale(0.925 1)" font-size="10" fill="#000" stroke="#000" stroke-width="0.2" text-anchor="start">30</text>
<text transform="translate(1602.5 622) scale(0.925 1)" font-size="10" fill="#000" stroke="#000" stroke-width="0.2" text-anchor="start">0</text>
<text transform="translate(1602.5 638) scale(0.905 1)" font-size="10" fill="#000" stroke="#000" stroke-width="0.2" text-anchor="start">0.005818</text>
<text transform="translate(1602.5 663) scale(0.905 1)" font-size="10" fill="#000" stroke="#000" stroke-width="0.2" text-anchor="start">0.00</text>
<text transform="translate(1602.5 716) scale(0.905 1)" font-size="10" fill="#000" stroke="#000" stroke-width="0.2" text-anchor="start">-0.011514</text>
<rect x="7" y="720" width="1" height="3" fill="#000" shape-rendering="crispEdges"/>
<text transform="translate(6.64 732) scale(0.9166 1)" font-size="10" fill="#000" stroke="#000" stroke-width="0.2" text-anchor="start">26 Sep 2019</text>
<rect x="71" y="720" width="1" height="3" fill="#000" shape-rendering="crispEdges"/>
<text transform="translate(70.32 732) scale(0.9341 1)" font-size="10" fill="#000" stroke="#000" stroke-width="0.2" text-anchor="start">15 Oct 2019</text>
<rect x="135" y="720" width="1" height="3" fill="#000" shape-rendering="crispEdges"/>
<text transform="translate(134.8 732) scale(0.947 1)" font-size="10" fill="#000" stroke="#000" stroke-width="0.2" text-anchor="start">2 Nov 2019</text>
<rect x="199" y="720" width="1" height="3" fill="#000" shape-rendering="crispEdges"/>
<text transform="translate(198.48 732) scale(0.9506 1)" font-size="10" fill="#000" stroke="#000" stroke-width="0.2" text-anchor="start">21 Nov 2019</text>
<rect x="263" y="720" width="1" height="3" fill="#000" shape-rendering="crispEdges"/>
<text transform="translate(262.32 732) scale(0.9165 1)" font-size="10" fill="#000" stroke="#000" stroke-width="0.2" text-anchor="start">10 Dec 2019</text>
<rect x="327" y="720" width="1" height="3" fill="#000" shape-rendering="crispEdges"/>
<text transform="translate(326.64 732) scale(0.9194 1)" font-size="10" fill="#000" stroke="#000" stroke-width="0.2" text-anchor="start">28 Dec 2019</text>
<rect x="391" y="720" width="1" height="3" fill="#000" shape-rendering="crispEdges"/>
<text transform="translate(390.48 732) scale(0.9103 1)" font-size="10" fill="#000" stroke="#000" stroke-width="0.2" text-anchor="start">16 Jan 2020</text>
<rect x="455" y="720" width="1" height="3" fill="#000" shape-rendering="crispEdges"/>
<text transform="translate(454.64 732) scale(0.9316 1)" font-size="10" fill="#000" stroke="#000" stroke-width="0.2" text-anchor="start">4 Feb 2020</text>
<rect x="519" y="720" width="1" height="3" fill="#000" shape-rendering="crispEdges"/>
<text transform="translate(518.64 732) scale(0.9168 1)" font-size="10" fill="#000" stroke="#000" stroke-width="0.2" text-anchor="start">22 Feb 2020</text>
<rect x="583" y="720" width="1" height="3" fill="#000" shape-rendering="crispEdges"/>
<text transform="translate(582.32 732) scale(0.9164 1)" font-size="10" fill="#000" stroke="#000" stroke-width="0.2" text-anchor="start">12 Mar 2020</text>
<rect x="647" y="720" width="1" height="3" fill="#000" shape-rendering="crispEdges"/>
<text transform="translate(646.8 732) scale(0.9165 1)" font-size="10" fill="#000" stroke="#000" stroke-width="0.2" text-anchor="start">31 Mar 2020</text>
<rect x="711" y="720" width="1" height="3" fill="#000" shape-rendering="crispEdges"/>
<text transform="translate(710.48 732) scale(0.9284 1)" font-size="10" fill="#000" stroke="#000" stroke-width="0.2" text-anchor="start">18 Apr 2020</text>
<rect x="775" y="720" width="1" height="3" fill="#000" shape-rendering="crispEdges"/>
<text transform="translate(774.16 732) scale(0.9589 1)" font-size="10" fill="#000" stroke="#000" stroke-width="0.2" text-anchor="start">7 May 2020</text>
<rect x="839" y="720" width="1" height="3" fill="#000" shape-rendering="crispEdges"/>
<text transform="translate(838.32 732) scale(0.9529 1)" font-size="10" fill="#000" stroke="#000" stroke-width="0.2" text-anchor="start">26 May 2020</text>
<rect x="903" y="720" width="1" height="3" fill="#000" shape-rendering="crispEdges"/>
<text transform="translate(902.32 732) scale(0.9132 1)" font-size="10" fill="#000" stroke="#000" stroke-width="0.2" text-anchor="start">13 Jun 2020</text>
<rect x="967" y="720" width="1" height="3" fill="#000" shape-rendering="crispEdges"/>
<text transform="translate(966.8 732) scale(0.897 1)" font-size="10" fill="#000" stroke="#000" stroke-width="0.2" text-anchor="start">2 Jul 2020</text>
<rect x="1031" y="720" width="1" height="3" fill="#000" shape-rendering="crispEdges"/>
<text transform="translate(1030.48 732) scale(0.9065 1)" font-size="10" fill="#000" stroke="#000" stroke-width="0.2" text-anchor="start">21 Jul 2020</text>
<rect x="1095" y="720" width="1" height="3" fill="#000" shape-rendering="crispEdges"/>
<text transform="translate(1094.16 732) scale(0.944 1)" font-size="10" fill="#000" stroke="#000" stroke-width="0.2" text-anchor="start">8 Aug 2020</text>
<rect x="1159" y="720" width="1" height="3" fill="#000" shape-rendering="crispEdges"/>
<text transform="translate(1158.64 732) scale(0.9336 1)" font-size="10" fill="#000" stroke="#000" stroke-width="0.2" text-anchor="start">27 Aug 2020</text>
<rect x="1223" y="720" width="1" height="3" fill="#000" shape-rendering="crispEdges"/>
<text transform="translate(1222.48 732) scale(0.9254 1)" font-size="10" fill="#000" stroke="#000" stroke-width="0.2" text-anchor="start">15 Sep 2020</text>
</g>
<rect x="1600" y="535" width="1" height="1" fill="#000"/>
<rect x="1600" y="561" width="1" height="1" fill="#000"/>
<rect x="1600" y="597" width="1" height="1" fill="#000"/>
<rect x="1600" y="624" width="1" height="1" fill="#000"/>
<rect x="1600" y="628" width="1" height="1" fill="#000"/>
<rect x="1600" y="659" width="1" height="1" fill="#000"/>
<rect x="1600" y="718" width="1" height="1" fill="#000"/>
<path stroke="#c0c0c0" stroke-width="1" stroke-dasharray="3 3" d="M8 561.5H1599" fill="none"/>
<path stroke="#c0c0c0" stroke-width="1" stroke-dasharray="3 3" d="M8 597.5H1599" fill="none"/>
<defs><clipPath id="cr"><rect x="7" y="534" width="1592" height="91"/></clipPath><clipPath id="cd"><rect x="7" y="628" width="1592" height="91"/></clipPath></defs>
<g clip-path="url(#cr)">
<path fill="#1e90ff" d="M7 573h2v1h-2zM9 574h2v1h-2zM11 575h1v1h-1zM12 576h2v1h-2zM14 577h2v1h-2zM15 578h1v1h-1zM16 575h1v2h-1zM17 572h1v3h-1zM18 570h1v2h-1zM19 568h1v2h-1zM20 569h1v2h-1zM21 571h1v2h-1zM22 573h1v2h-1zM23 575h1v1h-1zM24 574h1v1h-1zM25 573h1v1h-1zM26 572h1v1h-1zM27 571h5v1h-5zM32 572h2v1h-2zM34 573h1v1h-1zM35 574h3v1h-3zM38 575h7v1h-7zM45 576h2v1h-2zM47 577h2v1h-2zM49 576h2v1h-2zM51 575h3v1h-3zM54 574h3v1h-3zM57 573h2v1h-2zM59 572h3v1h-3zM62 571h4v1h-4zM66 572h3v1h-3zM69 571h2v1h-2zM71 570h1v1h-1zM72 571h1v2h-1zM73 573h1v1h-1zM74 574h1v2h-1zM75 576h1v2h-1zM76 578h1v3h-1zM77 581h1v4h-1zM78 585h1v3h-1zM79 588h1v2h-1zM80 589h1v1h-1zM81 590h2v1h-2zM83 591h3v1h-3zM86 592h2v1h-2zM88 591h2v1h-2zM90 590h1v1h-1zM91 589h1v1h-1zM92 588h1v1h-1zM93 586h1v2h-1zM94 585h1v1h-1zM95 584h1v1h-1zM96 583h2v1h-2zM98 582h1v1h-1zM99 581h1v1h-1zM100 580h2v1h-2zM102 579h1v1h-1zM103 578h1v1h-1zM104 577h2v1h-2zM106 576h1v1h-1zM107 575h3v1h-3zM110 574h3v1h-3zM113 573h2v1h-2zM115 572h1v1h-1zM116 573h1v1h-1zM117 574h1v1h-1zM118 575h1v1h-1zM119 576h1v1h-1zM120 577h1v2h-1zM121 579h1v1h-1zM122 580h1v2h-1zM123 582h1v1h-1zM124 583h1v2h-1zM125 585h1v1h-1zM126 586h1v2h-1zM127 588h2v1h-2zM129 589h2v1h-2zM131 590h3v1h-3zM134 589h4v1h-4zM138 588h2v1h-2zM139 587h1v1h-1zM140 584h1v3h-1zM141 582h1v2h-1zM142 579h1v3h-1zM143 577h5v1h-5zM143 578h1v1h-1zM148 576h1v1h-1zM149 575h1v1h-1zM150 574h1v1h-1zM151 573h1v1h-1zM152 572h2v1h-2zM154 571h1v1h-1zM155 570h3v1h-3zM158 569h2v1h-2zM160 570h1v2h-1zM161 572h1v1h-1zM162 573h1v2h-1zM163 575h3v1h-3zM166 576h2v1h-2zM167 577h1v1h-1zM168 578h1v2h-1zM169 580h1v2h-1zM170 582h1v2h-1zM171 584h3v1h-3zM174 585h3v1h-3zM177 584h2v1h-2zM179 583h5v1h-5zM184 584h2v1h-2zM186 585h1v1h-1zM187 586h1v1h-1zM188 585h1v1h-1zM189 584h1v1h-1zM190 583h1v1h-1zM191 582h1v1h-1zM192 581h1v1h-1zM193 579h1v2h-1zM194 578h1v1h-1zM195 577h2v1h-2zM197 578h2v1h-2zM199 579h1v1h-1zM200 577h1v2h-1zM201 575h1v2h-1zM202 573h1v2h-1zM203 572h2v1h-2zM205 571h2v1h-2zM207 570h6v1h-6zM213 569h2v1h-2zM215 568h3v1h-3zM218 567h4v1h-4zM222 568h4v1h-4zM226 567h4v1h-4zM230 566h2v1h-2zM231 567h1v1h-1zM232 568h1v4h-1zM233 572h1v4h-1zM234 576h1v4h-1zM235 580h1v3h-1zM236 583h1v2h-1zM237 585h1v2h-1zM238 587h1v2h-1zM239 589h2v1h-2zM239 590h1v1h-1zM241 588h1v1h-1zM242 587h1v1h-1zM243 586h3v1h-3zM246 587h2v1h-2zM248 586h1v1h-1zM249 584h1v2h-1zM250 583h1v1h-1zM251 582h2v1h-2zM253 583h2v1h-2zM255 584h2v1h-2zM257 585h2v1h-2zM259 586h1v1h-1zM260 587h2v1h-2zM262 588h1v1h-1zM263 589h7v1h-7zM270 588h2v1h-2zM272 589h1v1h-1zM273 590h1v2h-1zM274 592h1v1h-1zM275 593h1v1h-1zM276 592h2v1h-2zM278 591h1v1h-1zM279 590h5v1h-5zM284 591h1v1h-1zM285 592h1v2h-1zM286 594h1v1h-1zM287 595h1v1h-1zM288 594h1v1h-1zM289 593h1v1h-1zM290 592h1v1h-1zM291 591h1v1h-1zM292 592h1v1h-1zM293 593h1v1h-1zM294 594h1v1h-1zM295 595h1v1h-1zM296 593h1v2h-1zM297 591h1v2h-1zM298 589h1v2h-1zM299 588h2v1h-2zM301 587h2v1h-2zM303 586h3v1h-3zM306 587h3v1h-3zM309 588h2v1h-2zM311 589h3v1h-3zM314 590h2v1h-2zM316 589h2v1h-2zM318 588h1v1h-1zM319 587h1v1h-1zM320 588h1v2h-1zM321 590h1v2h-1zM322 592h1v2h-1zM323 594h2v1h-2zM325 595h2v1h-2zM327 596h1v1h-1zM328 597h1v1h-1zM329 598h1v1h-1zM330 599h1v1h-1zM331 600h7v1h-7zM338 601h2v1h-2zM340 600h2v1h-2zM342 599h1v1h-1zM343 598h1v1h-1zM344 597h1v1h-1zM345 596h1v1h-1zM346 595h1v1h-1zM347 594h1v1h-1zM348 593h2v1h-2zM350 592h1v1h-1zM351 591h1v1h-1zM352 592h1v1h-1zM353 593h1v1h-1zM354 594h1v1h-1zM355 595h1v1h-1zM356 593h1v2h-1zM357 591h1v2h-1zM358 589h1v2h-1zM359 588h2v1h-2zM361 589h2v1h-2zM363 590h1v1h-1zM364 589h1v1h-1zM365 587h1v2h-1zM366 586h1v1h-1zM367 585h7v1h-7zM374 586h3v1h-3zM377 587h2v1h-2zM379 588h1v1h-1zM380 589h1v1h-1zM381 590h1v1h-1zM382 591h1v1h-1zM383 592h1v1h-1zM384 593h2v1h-2zM386 594h1v1h-1zM387 595h3v1h-3zM390 596h2v1h-2zM391 595h1v1h-1zM392 593h1v2h-1zM393 591h1v2h-1zM394 589h1v2h-1zM395 588h5v1h-5zM400 587h2v1h-2zM402 586h1v1h-1zM403 585h1v1h-1zM404 586h2v1h-2zM406 587h1v1h-1zM407 588h1v1h-1zM408 587h1v1h-1zM409 585h1v2h-1zM410 584h1v1h-1zM411 583h3v1h-3zM414 584h2v1h-2zM416 583h2v1h-2zM418 582h1v1h-1zM419 581h6v1h-6zM425 582h3v1h-3zM427 583h1v1h-1zM428 580h1v2h-1zM429 578h1v2h-1zM430 576h1v2h-1zM431 575h3v1h-3zM434 574h2v1h-2zM435 575h1v1h-1zM436 576h1v3h-1zM437 579h1v2h-1zM438 581h1v3h-1zM439 584h1v2h-1zM440 586h1v1h-1zM441 587h1v1h-1zM442 588h1v1h-1zM443 589h2v1h-2zM445 590h2v1h-2zM447 591h1v1h-1zM448 590h1v1h-1zM449 588h1v2h-1zM450 587h1v1h-1zM451 586h1v1h-1zM452 584h1v2h-1zM453 583h1v1h-1zM454 581h1v2h-1zM455 580h1v1h-1zM456 579h1v1h-1zM457 577h1v2h-1zM458 576h1v1h-1zM459 575h2v1h-2zM461 574h2v1h-2zM463 573h2v1h-2zM465 572h2v1h-2zM467 571h3v1h-3zM470 570h4v1h-4zM474 571h11v1h-11zM485 570h2v1h-2zM487 569h1v1h-1zM488 568h1v1h-1zM489 567h1v1h-1zM490 566h1v1h-1zM491 565h3v1h-3zM494 564h7v1h-7zM501 565h2v1h-2zM503 566h1v1h-1zM504 565h2v1h-2zM506 564h1v1h-1zM507 563h2v1h-2zM509 564h2v1h-2zM511 565h1v2h-1zM512 567h1v2h-1zM513 569h1v3h-1zM514 572h1v2h-1zM515 574h1v2h-1zM516 575h2v1h-2zM518 576h6v1h-6zM524 577h2v1h-2zM526 578h1v1h-1zM527 579h3v1h-3zM530 578h2v1h-2zM531 579h1v1h-1zM532 580h1v3h-1zM533 583h1v3h-1zM534 586h1v3h-1zM535 589h1v2h-1zM536 591h2v1h-2zM538 592h1v1h-1zM539 593h1v1h-1zM540 594h2v1h-2zM542 595h1v1h-1zM543 596h1v1h-1zM544 597h1v1h-1zM545 598h1v2h-1zM546 600h1v1h-1zM547 601h1v1h-1zM548 602h2v1h-2zM550 603h1v1h-1zM551 604h5v1h-5zM556 605h2v1h-2zM558 606h1v1h-1zM559 607h1v1h-1zM560 608h1v1h-1zM561 609h1v2h-1zM562 611h1v1h-1zM563 612h6v1h-6zM569 613h2v1h-2zM571 614h1v1h-1zM572 612h1v2h-1zM573 611h1v1h-1zM574 609h1v2h-1zM575 607h1v2h-1zM576 605h1v2h-1zM577 603h1v2h-1zM578 601h1v2h-1zM579 598h1v3h-1zM580 594h1v4h-1zM581 590h1v4h-1zM582 586h1v4h-1zM583 583h6v1h-6zM583 584h1v2h-1zM589 582h2v1h-2zM591 581h1v1h-1zM592 582h1v2h-1zM593 584h1v2h-1zM594 586h1v2h-1zM595 587h1v2h-1zM596 583h1v4h-1zM597 580h1v3h-1zM598 576h1v4h-1zM599 574h1v2h-1zM600 573h1v1h-1zM601 572h1v1h-1zM602 571h1v1h-1zM603 570h1v1h-1zM604 569h1v1h-1zM605 567h1v2h-1zM606 566h1v1h-1zM607 565h3v1h-3zM610 564h4v1h-4zM614 563h2v1h-2zM616 564h1v1h-1zM617 565h1v2h-1zM618 567h1v1h-1zM619 568h3v1h-3zM622 569h2v1h-2zM624 570h2v1h-2zM626 571h1v1h-1zM627 572h1v2h-1zM628 574h1v2h-1zM629 576h1v2h-1zM630 578h1v2h-1zM631 580h1v2h-1zM632 582h1v1h-1zM633 583h1v1h-1zM634 584h1v1h-1zM635 585h2v1h-2zM637 586h2v1h-2zM639 587h1v1h-1zM640 586h1v1h-1zM641 584h1v2h-1zM642 583h1v1h-1zM643 582h2v1h-2zM645 581h2v1h-2zM647 580h2v1h-2zM649 579h2v1h-2zM651 578h1v1h-1zM652 577h2v1h-2zM654 576h1v1h-1zM655 575h1v1h-1zM656 574h2v1h-2zM658 573h1v1h-1zM659 572h3v1h-3zM662 573h6v1h-6zM668 574h1v1h-1zM669 575h1v1h-1zM670 576h1v1h-1zM671 577h5v1h-5zM676 578h1v1h-1zM677 579h1v1h-1zM678 580h1v1h-1zM679 581h3v1h-3zM682 582h4v1h-4zM686 581h3v1h-3zM689 580h2v1h-2zM691 579h1v1h-1zM692 580h1v2h-1zM693 582h1v1h-1zM694 583h1v2h-1zM695 585h1v1h-1zM696 584h1v1h-1zM697 583h1v1h-1zM698 582h1v1h-1zM699 581h1v1h-1zM700 580h1v1h-1zM701 579h1v1h-1zM702 578h1v1h-1zM703 577h1v1h-1zM704 578h2v1h-2zM706 579h1v1h-1zM707 580h3v1h-3zM710 579h7v1h-7zM717 578h2v1h-2zM719 577h2v1h-2zM721 576h2v1h-2zM723 575h3v1h-3zM726 574h3v1h-3zM729 573h2v1h-2zM731 572h7v1h-7zM738 571h3v1h-3zM741 572h2v1h-2zM743 573h5v1h-5zM747 574h1v1h-1zM748 575h1v2h-1zM749 577h1v2h-1zM750 579h1v2h-1zM751 581h1v2h-1zM752 583h1v2h-1zM753 585h1v2h-1zM754 587h1v2h-1zM755 589h2v1h-2zM757 588h2v1h-2zM759 587h1v1h-1zM760 586h1v1h-1zM761 585h1v1h-1zM762 584h1v1h-1zM763 582h1v2h-1zM764 580h1v2h-1zM765 578h1v2h-1zM766 576h1v2h-1zM767 575h2v1h-2zM769 574h2v1h-2zM771 573h5v1h-5zM776 574h1v1h-1zM777 575h1v2h-1zM778 577h1v1h-1zM779 578h6v1h-6zM785 577h2v1h-2zM787 576h1v1h-1zM788 577h1v1h-1zM789 578h1v2h-1zM790 580h1v1h-1zM791 581h2v1h-2zM793 580h2v1h-2zM795 579h1v1h-1zM796 578h2v1h-2zM798 577h1v1h-1zM799 576h7v1h-7zM806 577h3v1h-3zM809 578h2v1h-2zM811 579h1v1h-1zM812 578h2v1h-2zM814 577h2v1h-2zM815 576h1v1h-1zM816 578h1v2h-1zM817 580h1v2h-1zM818 582h1v2h-1zM819 584h2v1h-2zM819 585h1v1h-1zM820 583h1v1h-1zM821 581h1v2h-1zM822 579h1v2h-1zM823 578h3v1h-3zM826 577h4v1h-4zM830 576h2v1h-2zM832 577h2v1h-2zM834 578h1v1h-1zM835 579h1v1h-1zM836 580h1v1h-1zM837 581h1v1h-1zM838 582h1v1h-1zM839 583h1v1h-1zM840 582h2v1h-2zM842 581h1v1h-1zM843 580h1v1h-1zM844 581h1v1h-1zM845 582h1v2h-1zM846 584h1v1h-1zM847 585h1v1h-1zM848 586h2v1h-2zM850 587h1v1h-1zM851 588h11v1h-11zM862 587h4v1h-4zM866 588h2v1h-2zM868 589h1v1h-1zM869 590h1v2h-1zM870 592h2v1h-2zM871 593h1v1h-1zM872 590h1v2h-1zM873 588h1v2h-1zM874 586h1v2h-1zM875 584h5v1h-5zM875 585h1v1h-1zM880 585h1v1h-1zM881 586h1v2h-1zM882 588h1v1h-1zM883 589h1v1h-1zM884 590h1v2h-1zM885 592h1v2h-1zM886 594h1v2h-1zM887 596h2v1h-2zM889 597h2v1h-2zM891 598h1v1h-1zM892 599h1v1h-1zM893 600h1v1h-1zM894 601h2v1h-2zM895 600h1v1h-1zM895 602h1v1h-1zM896 596h1v4h-1zM897 592h1v4h-1zM898 588h1v4h-1zM899 586h2v1h-2zM899 587h1v1h-1zM901 585h2v1h-2zM903 584h1v1h-1zM904 585h2v1h-2zM906 586h1v1h-1zM907 587h7v1h-7zM914 586h7v1h-7zM921 585h2v1h-2zM923 584h3v1h-3zM926 585h2v1h-2zM928 586h2v1h-2zM930 587h1v1h-1zM931 588h1v1h-1zM932 589h2v1h-2zM934 590h1v1h-1zM935 591h1v1h-1zM936 590h1v1h-1zM937 589h1v1h-1zM938 588h1v1h-1zM939 587h2v1h-2zM941 586h2v1h-2zM943 585h3v1h-3zM946 586h6v1h-6zM952 585h1v1h-1zM953 584h1v1h-1zM954 583h1v1h-1zM955 582h1v1h-1zM956 583h1v1h-1zM957 584h1v1h-1zM958 585h1v1h-1zM959 586h3v1h-3zM962 587h8v1h-8zM970 588h6v1h-6zM976 589h1v1h-1zM977 590h1v1h-1zM978 591h1v1h-1zM979 592h3v1h-3zM982 593h2v1h-2zM984 594h2v1h-2zM986 595h1v1h-1zM987 596h1v1h-1zM988 595h1v1h-1zM989 594h1v1h-1zM990 593h1v1h-1zM991 592h3v1h-3zM994 593h2v1h-2zM996 592h1v1h-1zM997 590h1v2h-1zM998 589h1v1h-1zM999 588h3v1h-3zM1002 589h2v1h-2zM1004 590h2v1h-2zM1006 591h2v1h-2zM1007 592h1v1h-1zM1008 589h1v2h-1zM1009 586h1v3h-1zM1010 584h1v2h-1zM1011 582h3v1h-3zM1011 583h1v1h-1zM1014 583h2v1h-2zM1016 584h1v1h-1zM1017 585h1v2h-1zM1018 587h1v1h-1zM1019 588h3v1h-3zM1022 589h4v1h-4zM1026 588h2v1h-2zM1028 589h1v2h-1zM1029 591h1v1h-1zM1030 592h1v2h-1zM1031 594h1v1h-1zM1032 595h1v1h-1zM1033 596h1v1h-1zM1034 597h1v1h-1zM1035 598h1v1h-1zM1036 599h2v1h-2zM1038 600h1v1h-1zM1039 601h2v1h-2zM1041 602h2v1h-2zM1043 603h7v1h-7zM1050 604h3v1h-3zM1053 605h2v1h-2zM1055 606h3v1h-3zM1058 607h4v1h-4zM1062 608h4v1h-4zM1066 609h2v1h-2zM1068 607h1v2h-1zM1069 606h1v1h-1zM1070 604h1v2h-1zM1071 602h1v2h-1zM1072 599h1v3h-1zM1073 597h1v2h-1zM1074 594h1v3h-1zM1075 592h1v2h-1zM1076 593h1v1h-1zM1077 594h1v1h-1zM1078 595h1v1h-1zM1079 596h1v1h-1zM1080 597h1v2h-1zM1081 599h1v1h-1zM1082 600h1v2h-1zM1083 602h1v1h-1zM1084 600h1v2h-1zM1085 598h1v2h-1zM1086 596h1v2h-1zM1087 595h1v1h-1zM1088 594h1v1h-1zM1089 592h1v2h-1zM1090 591h1v1h-1zM1091 590h6v1h-6zM1097 589h2v1h-2zM1099 588h2v1h-2zM1101 587h2v1h-2zM1103 586h1v1h-1zM1104 587h1v1h-1zM1105 588h1v2h-1zM1106 590h1v1h-1zM1107 591h3v1h-3zM1110 592h4v1h-4zM1114 593h4v1h-4zM1118 592h2v1h-2zM1120 593h2v1h-2zM1122 594h1v1h-1zM1123 595h2v1h-2zM1125 596h3v1h-3zM1127 597h1v1h-1zM1128 593h1v3h-1zM1129 590h1v3h-1zM1130 587h1v3h-1zM1131 585h1v2h-1zM1132 586h2v1h-2zM1134 587h1v1h-1zM1135 588h1v1h-1zM1136 586h1v2h-1zM1137 585h1v1h-1zM1138 583h1v2h-1zM1139 582h3v1h-3zM1142 583h4v1h-4zM1146 584h3v1h-3zM1149 585h2v1h-2zM1151 586h3v1h-3zM1154 587h6v1h-6zM1160 588h1v1h-1zM1161 589h1v1h-1zM1162 590h1v1h-1zM1163 591h3v1h-3zM1166 590h2v1h-2zM1168 591h2v1h-2zM1170 592h2v1h-2zM1171 593h1v1h-1zM1172 590h1v2h-1zM1173 588h1v2h-1zM1174 586h1v2h-1zM1175 584h1v2h-1zM1176 583h1v1h-1zM1177 582h1v1h-1zM1178 581h1v1h-1zM1179 580h5v1h-5zM1184 579h1v1h-1zM1185 577h1v2h-1zM1186 576h1v1h-1zM1187 575h1v1h-1zM1188 576h2v1h-2zM1190 577h1v1h-1zM1191 578h1v1h-1zM1192 577h2v1h-2zM1194 576h1v1h-1zM1195 575h2v1h-2zM1197 574h2v1h-2zM1199 573h1v1h-1zM1200 574h1v1h-1zM1201 575h1v2h-1zM1202 577h1v1h-1zM1203 578h1v1h-1zM1204 579h1v2h-1zM1205 581h1v1h-1zM1206 582h1v2h-1zM1207 584h2v1h-2zM1209 583h2v1h-2zM1211 582h5v1h-5zM1216 583h2v1h-2zM1218 584h1v1h-1zM1219 585h2v1h-2zM1221 584h2v1h-2zM1223 583h6v1h-6zM1229 582h2v1h-2zM1231 581h7v1h-7zM1238 580h2v1h-2zM1239 579h1v1h-1zM1240 577h1v2h-1zM1241 575h1v2h-1zM1242 573h1v2h-1zM1243 571h1v2h-1zM1244 570h2v1h-2zM1246 569h1v1h-1zM1247 568h1v1h-1zM1248 567h1v1h-1zM1249 566h1v1h-1zM1250 565h1v1h-1zM1251 564h2v1h-2zM1253 563h2v1h-2zM1255 562h2v1h-2zM1257 561h2v1h-2zM1259 560h5v1h-5zM1263 561h1v1h-1zM1264 562h1v2h-1zM1265 564h1v2h-1zM1266 566h1v2h-1zM1267 568h3v1h-3zM1270 569h1v1h-1z"/>
</g>
<g clip-path="url(#cd)"><path fill="#c0c0c0" d="M7 650h1v10h-1zM11 650h1v10h-1zM15 652h1v8h-1zM19 650h1v10h-1zM23 650h1v10h-1zM27 649h1v11h-1zM31 648h1v12h-1zM35 648h1v12h-1zM39 649h1v11h-1zM43 650h1v10h-1zM47 651h1v9h-1zM51 651h1v9h-1zM55 651h1v9h-1zM59 651h1v9h-1zM63 651h1v9h-1zM67 650h1v10h-1zM71 650h1v10h-1zM75 651h1v9h-1zM79 655h1v5h-1zM83 659h1v1h-1zM87 659h1v4h-1zM91 659h1v6h-1zM95 659h1v7h-1zM99 659h1v6h-1zM103 659h1v5h-1zM107 659h1v4h-1zM111 659h1v2h-1zM115 658h1v2h-1zM119 658h1v2h-1zM123 659h1v1h-1zM127 659h1v3h-1zM131 659h1v6h-1zM135 659h1v7h-1zM139 659h1v8h-1zM143 659h1v7h-1zM147 659h1v5h-1zM151 659h1v3h-1zM155 659h1v1h-1zM159 656h1v4h-1zM163 656h1v4h-1zM167 655h1v5h-1zM171 657h1v3h-1zM175 659h1v1h-1zM179 659h1v2h-1zM183 659h1v3h-1zM187 659h1v4h-1zM191 659h1v4h-1zM195 659h1v3h-1zM199 659h1v3h-1zM203 659h1v1h-1zM207 656h1v4h-1zM211 655h1v5h-1zM215 653h1v7h-1zM219 651h1v9h-1zM223 650h1v10h-1zM227 649h1v11h-1zM231 648h1v12h-1zM235 650h1v10h-1zM239 655h1v5h-1zM243 658h1v2h-1zM247 659h1v2h-1zM251 659h1v3h-1zM255 659h1v4h-1zM259 659h1v5h-1zM263 659h1v7h-1zM267 659h1v9h-1zM271 659h1v9h-1zM275 659h1v12h-1zM279 659h1v12h-1zM283 659h1v13h-1zM287 659h1v15h-1zM291 659h1v16h-1zM295 659h1v18h-1zM299 659h1v18h-1zM303 659h1v17h-1zM307 659h1v17h-1zM311 659h1v17h-1zM315 659h1v17h-1zM319 659h1v16h-1zM323 659h1v18h-1zM327 659h1v20h-1zM331 659h1v23h-1zM335 659h1v25h-1zM339 659h1v27h-1zM343 659h1v28h-1zM347 659h1v28h-1zM351 659h1v26h-1zM355 659h1v27h-1zM359 659h1v25h-1zM363 659h1v24h-1zM367 659h1v22h-1zM371 659h1v20h-1zM375 659h1v19h-1zM379 659h1v18h-1zM383 659h1v19h-1zM387 659h1v20h-1zM391 659h1v21h-1zM395 659h1v21h-1zM399 659h1v20h-1zM403 659h1v18h-1zM407 659h1v18h-1zM411 659h1v16h-1zM415 659h1v15h-1zM419 659h1v13h-1zM423 659h1v12h-1zM427 659h1v11h-1zM431 659h1v8h-1zM435 659h1v6h-1zM439 659h1v7h-1zM443 659h1v9h-1zM447 659h1v11h-1zM451 659h1v11h-1zM455 659h1v10h-1zM459 659h1v7h-1zM463 659h1v4h-1zM467 659h1v2h-1zM471 657h1v3h-1zM475 655h1v5h-1zM479 653h1v7h-1zM483 652h1v8h-1zM487 651h1v9h-1zM491 649h1v11h-1zM495 647h1v13h-1zM499 646h1v14h-1zM503 645h1v15h-1zM507 644h1v16h-1zM511 644h1v16h-1zM515 645h1v15h-1zM519 647h1v13h-1zM523 648h1v12h-1zM527 650h1v10h-1zM531 651h1v9h-1zM535 655h1v5h-1zM539 659h1v1h-1zM543 659h1v5h-1zM547 659h1v11h-1zM551 659h1v17h-1zM555 659h1v21h-1zM559 659h1v27h-1zM563 659h1v36h-1zM567 659h1v44h-1zM571 659h1v52h-1zM575 659h1v56h-1zM579 659h1v57h-1zM583 659h1v50h-1zM587 659h1v44h-1zM591 659h1v39h-1zM595 659h1v37h-1zM599 659h1v29h-1zM603 659h1v18h-1zM607 659h1v5h-1zM611 651h1v9h-1zM615 641h1v19h-1zM619 637h1v23h-1zM623 634h1v26h-1zM627 633h1v27h-1zM631 638h1v22h-1zM635 646h1v14h-1zM639 654h1v6h-1zM643 657h1v3h-1zM647 658h1v2h-1zM651 657h1v3h-1zM655 654h1v6h-1zM659 650h1v10h-1zM663 648h1v12h-1zM667 646h1v14h-1zM671 647h1v13h-1zM675 647h1v13h-1zM679 650h1v10h-1zM683 653h1v7h-1zM687 655h1v5h-1zM691 656h1v4h-1zM695 659h1v1h-1zM699 659h1v2h-1zM703 659h1v1h-1zM707 659h1v2h-1zM711 659h1v2h-1zM715 659h1v2h-1zM719 659h1v1h-1zM723 657h1v3h-1zM727 655h1v5h-1zM731 653h1v7h-1zM735 651h1v9h-1zM739 650h1v10h-1zM743 649h1v11h-1zM747 648h1v12h-1zM751 651h1v9h-1zM755 657h1v3h-1zM759 659h1v2h-1zM763 659h1v4h-1zM767 659h1v2h-1zM771 657h1v3h-1zM775 655h1v5h-1zM779 656h1v4h-1zM783 656h1v4h-1zM787 655h1v5h-1zM791 656h1v4h-1zM795 657h1v3h-1zM799 656h1v4h-1zM803 655h1v5h-1zM807 655h1v5h-1zM811 656h1v4h-1zM815 655h1v5h-1zM819 658h1v2h-1zM823 658h1v2h-1zM827 657h1v3h-1zM831 657h1v3h-1zM835 657h1v3h-1zM839 659h1v1h-1zM843 659h1v1h-1zM847 659h1v3h-1zM851 659h1v6h-1zM855 659h1v8h-1zM859 659h1v10h-1zM863 659h1v11h-1zM867 659h1v12h-1zM871 659h1v15h-1zM875 659h1v14h-1zM879 659h1v14h-1zM883 659h1v16h-1zM887 659h1v20h-1zM891 659h1v25h-1zM895 659h1v31h-1zM899 659h1v31h-1zM903 659h1v28h-1zM907 659h1v28h-1zM911 659h1v28h-1zM915 659h1v27h-1zM919 659h1v25h-1zM923 659h1v24h-1zM927 659h1v23h-1zM931 659h1v23h-1zM935 659h1v24h-1zM939 659h1v24h-1zM943 659h1v23h-1zM947 659h1v22h-1zM951 659h1v21h-1zM955 659h1v19h-1zM959 659h1v19h-1zM963 659h1v19h-1zM967 659h1v19h-1zM971 659h1v19h-1zM975 659h1v18h-1zM979 659h1v19h-1zM983 659h1v20h-1zM987 659h1v22h-1zM991 659h1v22h-1zM995 659h1v22h-1zM999 659h1v21h-1zM1003 659h1v21h-1zM1007 659h1v21h-1zM1011 659h1v18h-1zM1015 659h1v17h-1zM1019 659h1v17h-1zM1023 659h1v17h-1zM1027 659h1v17h-1zM1031 659h1v19h-1zM1035 659h1v22h-1zM1039 659h1v26h-1zM1043 659h1v30h-1zM1047 659h1v33h-1zM1051 659h1v35h-1zM1055 659h1v38h-1zM1059 659h1v41h-1zM1063 659h1v44h-1zM1067 659h1v46h-1zM1071 659h1v46h-1zM1075 659h1v43h-1zM1079 659h1v42h-1zM1083 659h1v45h-1zM1087 659h1v45h-1zM1091 659h1v43h-1zM1095 659h1v41h-1zM1099 659h1v38h-1zM1103 659h1v35h-1zM1107 659h1v34h-1zM1111 659h1v34h-1zM1115 659h1v34h-1zM1119 659h1v33h-1zM1123 659h1v33h-1zM1127 659h1v35h-1zM1131 659h1v32h-1zM1135 659h1v30h-1zM1139 659h1v27h-1zM1143 659h1v24h-1zM1147 659h1v23h-1zM1151 659h1v22h-1zM1155 659h1v21h-1zM1159 659h1v21h-1zM1163 659h1v22h-1zM1167 659h1v22h-1zM1171 659h1v23h-1zM1175 659h1v22h-1zM1179 659h1v19h-1zM1183 659h1v16h-1zM1187 659h1v12h-1zM1191 659h1v10h-1zM1195 659h1v7h-1zM1199 659h1v4h-1zM1203 659h1v3h-1zM1207 659h1v5h-1zM1211 659h1v5h-1zM1215 659h1v5h-1zM1219 659h1v7h-1zM1223 659h1v7h-1zM1227 659h1v7h-1zM1231 659h1v7h-1zM1235 659h1v6h-1zM1239 659h1v6h-1zM1243 659h1v3h-1zM1247 657h1v3h-1zM1251 652h1v8h-1zM1255 648h1v12h-1zM1259 643h1v17h-1zM1263 640h1v20h-1zM1267 639h1v21h-1zM1271 639h1v21h-1z"/>
<path fill="#ff0000" d="M7 645h3v1h-3zM13 646h1v1h-1zM14 647h2v1h-2zM19 647h3v1h-3zM25 648h3v1h-3zM31 648h3v1h-3zM37 649h3v1h-3zM43 649h3v1h-3zM49 649h3v1h-3zM55 649h3v1h-3zM61 649h3v1h-3zM67 650h3v1h-3zM73 650h3v1h-3zM79 651h3v1h-3zM85 652h1v1h-1zM86 653h2v1h-2zM91 654h2v1h-2zM93 655h1v1h-1zM97 656h1v1h-1zM98 657h2v1h-2zM103 659h3v1h-3zM109 660h1v1h-1zM110 661h2v1h-2zM115 662h3v1h-3zM121 662h1v1h-1zM122 661h2v1h-2zM127 661h3v1h-3zM133 661h3v1h-3zM139 661h3v1h-3zM145 661h1v1h-1zM146 662h2v1h-2zM151 662h3v1h-3zM157 662h3v1h-3zM163 661h3v1h-3zM169 660h1v1h-1zM170 659h2v1h-2zM175 659h3v1h-3zM181 658h3v1h-3zM187 658h3v1h-3zM193 658h1v1h-1zM194 659h2v1h-2zM199 659h3v1h-3zM205 660h3v1h-3zM211 659h3v1h-3zM217 658h1v1h-1zM218 657h2v1h-2zM223 656h3v1h-3zM229 654h2v1h-2zM231 653h1v1h-1zM235 652h3v1h-3zM241 651h1v1h-1zM242 652h2v1h-2zM247 652h3v1h-3zM253 653h1v1h-1zM254 654h2v1h-2zM259 656h2v1h-2zM261 657h1v1h-1zM265 659h2v1h-2zM267 660h1v1h-1zM271 661h2v1h-2zM273 662h1v1h-1zM277 663h1v1h-1zM278 664h2v1h-2zM283 666h3v1h-3zM289 668h2v1h-2zM291 669h1v1h-1zM295 670h3v1h-3zM301 671h1v1h-1zM302 672h2v1h-2zM307 673h3v1h-3zM313 673h1v1h-1zM314 674h2v1h-2zM319 674h3v1h-3zM325 675h3v1h-3zM331 676h3v1h-3zM337 676h1v1h-1zM338 677h2v1h-2zM343 679h3v1h-3zM349 680h1v1h-1zM350 681h2v1h-2zM355 682h3v1h-3zM361 683h1v1h-1zM362 684h2v1h-2zM367 683h3v1h-3zM373 683h1v1h-1zM374 682h2v1h-2zM379 681h3v1h-3zM385 680h1v1h-1zM386 679h2v1h-2zM391 679h3v1h-3zM397 678h3v1h-3zM403 677h3v1h-3zM409 677h3v1h-3zM415 676h3v1h-3zM421 676h1v1h-1zM422 675h2v1h-2zM427 673h3v1h-3zM433 672h1v1h-1zM434 671h2v1h-2zM439 669h3v1h-3zM445 668h3v1h-3zM451 667h3v1h-3zM457 667h1v1h-1zM458 666h2v1h-2zM463 666h3v1h-3zM469 665h1v1h-1zM470 664h2v1h-2zM475 663h3v1h-3zM481 661h2v1h-2zM483 660h1v1h-1zM487 658h2v1h-2zM489 657h1v1h-1zM493 655h2v1h-2zM495 654h1v1h-1zM499 652h2v1h-2zM501 651h1v1h-1zM505 650h1v1h-1zM506 649h2v1h-2zM511 647h3v1h-3zM517 647h1v1h-1zM518 646h2v1h-2zM523 646h3v1h-3zM529 646h3v1h-3zM535 647h2v1h-2zM537 648h1v1h-1zM541 650h2v1h-2zM543 651h1v1h-1zM547 654h1v1h-1zM548 655h2v1h-2zM553 659h1v1h-1zM554 660h1v1h-1zM555 661h1v1h-1zM559 665h1v1h-1zM560 666h1v1h-1zM561 667h1v1h-1zM564 671h1v1h-1zM565 672h1v2h-1zM568 677h1v1h-1zM569 678h1v1h-1zM570 679h1v1h-1zM572 683h1v1h-1zM573 684h1v1h-1zM574 685h1v1h-1zM576 689h1v1h-1zM577 690h1v1h-1zM578 691h1v1h-1zM581 695h1v1h-1zM582 696h1v1h-1zM583 697h1v1h-1zM587 700h2v1h-2zM589 701h1v1h-1zM593 703h2v1h-2zM595 704h1v1h-1zM599 703h1v1h-1zM600 702h2v1h-2zM605 697h1v2h-1zM606 696h1v1h-1zM609 691h1v2h-1zM610 690h1v1h-1zM612 685h1v2h-1zM613 684h1v1h-1zM615 679h1v2h-1zM616 678h1v1h-1zM618 673h1v2h-1zM619 672h1v1h-1zM621 667h1v2h-1zM622 666h1v1h-1zM624 662h1v1h-1zM625 660h1v2h-1zM628 655h1v2h-1zM629 654h1v1h-1zM632 650h1v1h-1zM633 648h1v2h-1zM637 645h2v1h-2zM639 644h1v1h-1zM643 643h3v1h-3zM649 644h1v1h-1zM650 645h2v1h-2zM655 647h2v1h-2zM657 648h1v1h-1zM661 650h2v1h-2zM663 651h1v1h-1zM667 652h3v1h-3zM673 652h1v1h-1zM674 651h2v1h-2zM679 650h3v1h-3zM685 650h3v1h-3zM691 650h3v1h-3zM697 651h1v1h-1zM698 652h2v1h-2zM703 654h3v1h-3zM709 655h1v1h-1zM710 656h2v1h-2zM715 658h3v1h-3zM721 658h3v1h-3zM727 658h3v1h-3zM733 658h1v1h-1zM734 657h2v1h-2zM739 655h3v1h-3zM745 654h1v1h-1zM746 653h2v1h-2zM751 652h3v1h-3zM757 652h3v1h-3zM763 653h3v1h-3zM769 654h3v1h-3zM775 655h3v1h-3zM781 656h3v1h-3zM787 657h3v1h-3zM793 657h1v1h-1zM794 656h2v1h-2zM799 656h3v1h-3zM805 655h3v1h-3zM811 655h3v1h-3zM817 655h3v1h-3zM823 656h3v1h-3zM829 656h3v1h-3zM835 656h3v1h-3zM841 656h1v1h-1zM842 657h2v1h-2zM847 657h3v1h-3zM853 658h1v1h-1zM854 659h2v1h-2zM859 660h2v1h-2zM861 661h1v1h-1zM865 662h1v1h-1zM866 663h2v1h-2zM871 665h2v1h-2zM873 666h1v1h-1zM877 667h1v1h-1zM878 668h2v1h-2zM883 669h2v1h-2zM885 670h1v1h-1zM889 672h2v1h-2zM891 673h1v1h-1zM895 675h2v1h-2zM897 676h1v1h-1zM901 678h2v1h-2zM903 679h1v1h-1zM907 681h3v1h-3zM913 682h1v1h-1zM914 683h2v1h-2zM919 684h3v1h-3zM925 685h3v1h-3zM931 684h3v1h-3zM937 683h3v1h-3zM943 682h3v1h-3zM949 681h3v1h-3zM955 680h3v1h-3zM961 680h1v1h-1zM962 679h2v1h-2zM967 679h3v1h-3zM973 678h1v1h-1zM974 677h2v1h-2zM979 677h3v1h-3zM985 677h3v1h-3zM991 677h3v1h-3zM997 678h3v1h-3zM1003 678h3v1h-3zM1009 678h3v1h-3zM1015 678h3v1h-3zM1021 678h1v1h-1zM1022 677h2v1h-2zM1027 677h3v1h-3zM1033 676h3v1h-3zM1039 677h3v1h-3zM1045 678h1v1h-1zM1046 679h2v1h-2zM1051 681h1v1h-1zM1052 682h2v1h-2zM1057 685h2v1h-2zM1059 686h1v1h-1zM1063 689h1v1h-1zM1064 690h2v1h-2zM1069 693h1v1h-1zM1070 694h1v1h-1zM1071 695h1v1h-1zM1075 697h2v1h-2zM1077 698h1v1h-1zM1081 699h1v1h-1zM1082 700h2v1h-2zM1087 701h3v1h-3zM1093 702h3v1h-3zM1099 701h3v1h-3zM1105 699h2v1h-2zM1107 698h1v1h-1zM1111 697h3v1h-3zM1117 696h1v1h-1zM1118 695h2v1h-2zM1123 694h3v1h-3zM1129 693h1v1h-1zM1130 692h2v1h-2zM1135 691h3v1h-3zM1141 690h1v1h-1zM1142 689h2v1h-2zM1147 688h2v1h-2zM1149 687h1v1h-1zM1153 686h1v1h-1zM1154 685h2v1h-2zM1159 684h2v1h-2zM1161 683h1v1h-1zM1165 682h1v1h-1zM1166 681h2v1h-2zM1171 680h3v1h-3zM1177 680h1v1h-1zM1178 679h2v1h-2zM1183 678h3v1h-3zM1189 677h1v1h-1zM1190 676h2v1h-2zM1195 675h2v1h-2zM1197 674h1v1h-1zM1201 672h2v1h-2zM1203 671h1v1h-1zM1207 668h3v1h-3zM1213 666h2v1h-2zM1215 665h1v1h-1zM1219 664h3v1h-3zM1225 663h3v1h-3zM1231 663h3v1h-3zM1237 663h1v1h-1zM1238 664h2v1h-2zM1243 663h3v1h-3zM1249 662h2v1h-2zM1251 661h1v1h-1zM1255 660h1v1h-1zM1256 659h2v1h-2zM1261 656h1v1h-1zM1262 655h1v1h-1zM1263 654h1v1h-1zM1267 651h2v1h-2zM1269 650h1v1h-1z"/>
</g>
</svg>
<div id="toolbar">
<svg width="32" height="22" viewBox="0 0 32 22" style="position:absolute;left:0;top:0"><path fill="#505050" d="M2.6 3.6L6 7 2.6 9.2-.6 7zM9.5 17.4L6 14 9.5 11.8 13 14z"/><path fill="none" stroke="#505050" stroke-width="1.1" d="M1 11.3l2.4 2.4L7.8 8.2"/><path fill="#000" d="M19.8 9h5.4l-2.7 3.2z"/></svg>
<div class="sep" style="left:31px"></div><div class="grip"></div><div class="on"></div>
<span style="left:46.2px">M1</span>
<span style="left:74px">M5</span>
<span style="left:100.4px">M15</span>
<span style="left:128.3px">M30</span>
<span style="left:159.4px">H1</span>
<span style="left:186.2px">H4</span>
<span style="left:215.6px">D1</span>
<span style="left:242.6px">W1</span>
<span style="left:269.5px">MN</span>
<div class="sep" style="left:292px"></div>
</div>
<div id="tabs"><div class="bg"></div><div class="b0"></div><div class="b1"></div><div class="b2"></div><div class="line"></div><div class="l1"></div><div class="l2"></div><div class="actbg"></div>
<span style="left:19.70px;transform:scaleX(1.0161)">EURUSD,Daily</span>
<span style="left:122.44px;transform:scaleX(1.0003)" class=act>USDCHF,Daily</span>
<span style="left:223.18px;transform:scaleX(1.0271)">AUDUSD,Daily</span>
<span style="left:326.04px;transform:scaleX(1.0229)">USDCAD,Daily</span>
<span style="left:429.04px;transform:scaleX(1.0497)">USDCNH,Daily</span>
<span style="left:535.04px;transform:scaleX(1.0161)">EURUSD,Daily</span>
<span style="left:640.76px;transform:scaleX(0.9948)">GBPUSD,H1</span>
<span style="left:729.36px;transform:scaleX(1.0385)">XAUUSD,M15</span>
<span style="left:830.04px;transform:scaleX(1.0653)">HK50,H1</span>
<span style="left:902.20px;transform:scaleX(1.0747)">UK100,H1</span>
<span style="left:981.96px;transform:scaleX(1.0673)">UK100,H1</span>
<span style="left:1062.36px;transform:scaleX(0.9939)">GER30,H1</span>
<span style="left:1141.20px;transform:scaleX(1.0102)">FRA40,H1</span>
<span style="left:1218.20px;transform:scaleX(1.0413)">USOil,H4</span>
<span style="left:1289.20px;transform:scaleX(1.0002)">USDJPY,Daily</span>
<span style="left:1385.20px;transform:scaleX(1.0547)">DJ30,Daily</span>
<span style="left:1466.18px;transform:scaleX(1.0697)">CHINA300,H1</span>
<span style="left:1564.96px;transform:scaleX(1.0413)">USOil,H</span>
<i style="left:316px"></i>
<i style="left:420px"></i>
<i style="left:524px"></i>
<i style="left:628px"></i>
<i style="left:720px"></i>
<i style="left:820px"></i>
<i style="left:892px"></i>
<i style="left:972px"></i>
<i style="left:1052px"></i>
<i style="left:1132px"></i>
<i style="left:1209px"></i>
<i style="left:1280px"></i>
<i style="left:1376px"></i>
<i style="left:1456px"></i>
<i style="left:1556px"></i>
<svg width="30" height="12" viewBox="0 0 30 12" style="position:absolute;left:1612px;top:5px"><path fill="#a0a0a0" d="M6.2 2v6l-3.2-3z"/><path fill="#000" d="M22 2v6.4l3.4-3.2z"/></svg>
</div>
</body></html>
